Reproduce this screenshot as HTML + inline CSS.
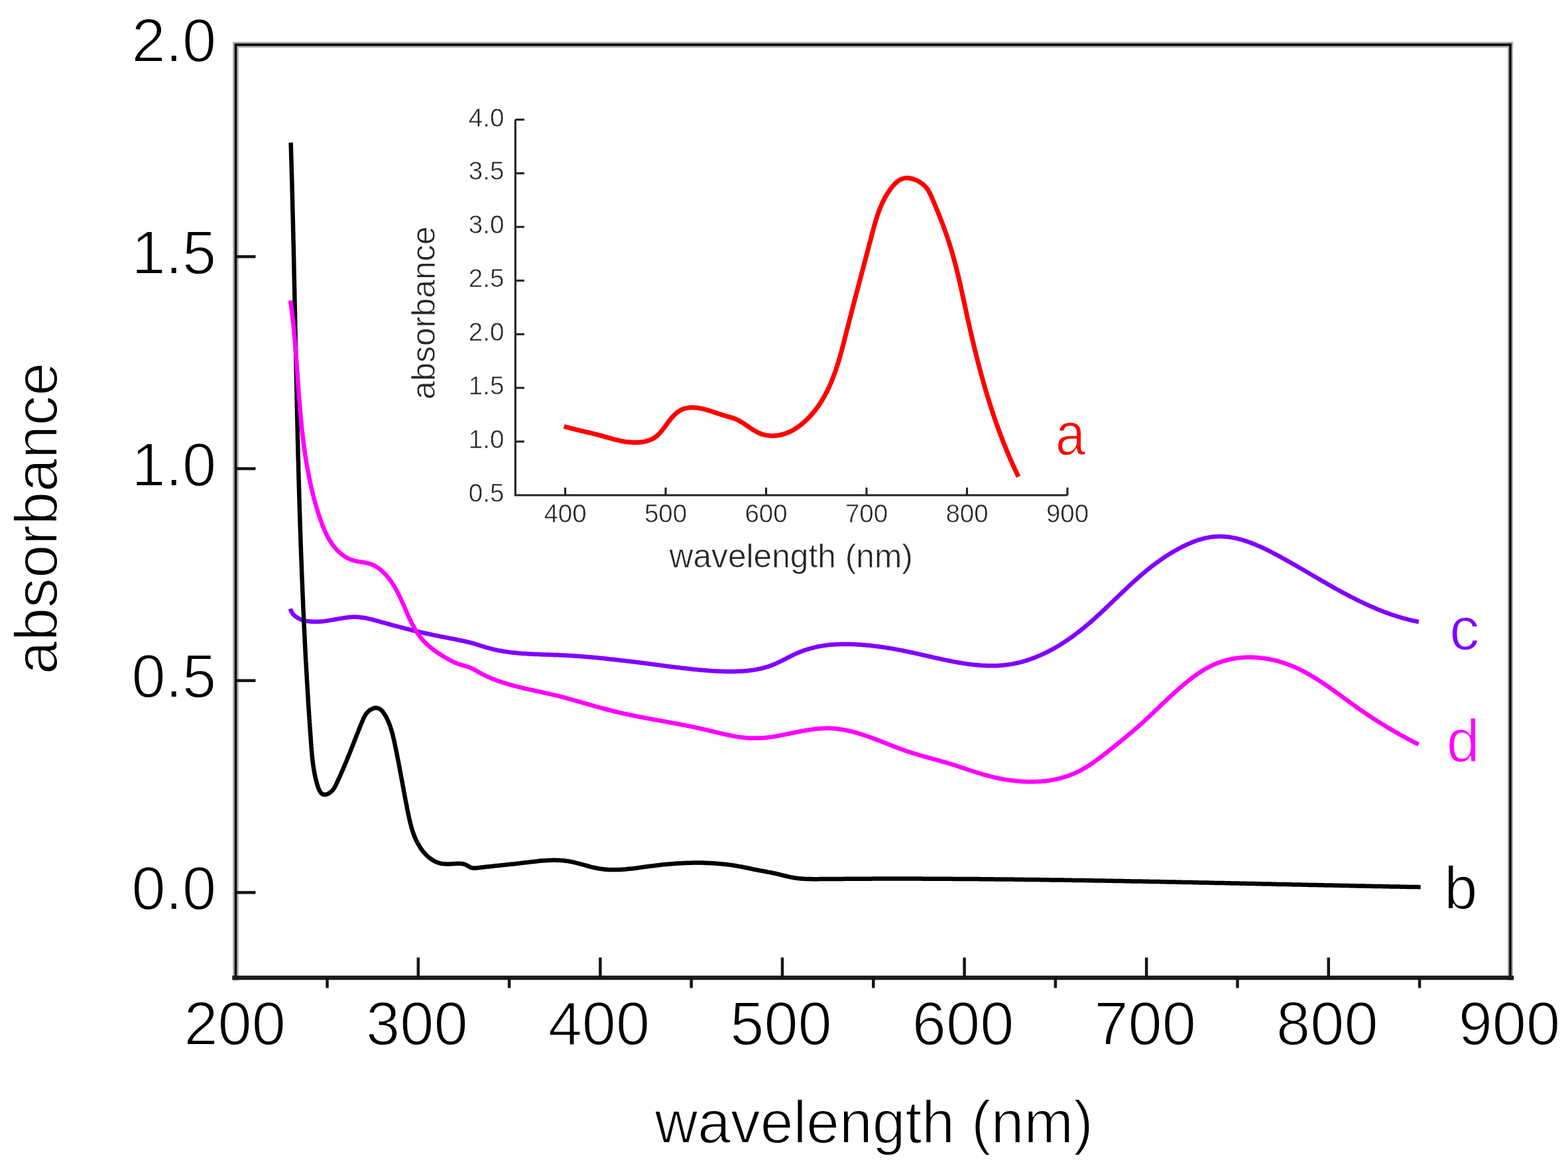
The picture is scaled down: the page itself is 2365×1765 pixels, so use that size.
<!DOCTYPE html><html><head><meta charset="utf-8"><title>absorbance spectra</title>
<style>html,body{margin:0;padding:0;background:#fff;}body{width:2365px;height:1765px;overflow:hidden;}svg{display:block;}text{font-family:"Liberation Sans", Arial, Helvetica, sans-serif;}</style></head><body>
<svg width="2365" height="1765" viewBox="0 0 2365 1765">
<rect x="0" y="0" width="2365" height="1765" fill="#fff"/>
<g fill="none" stroke-linecap="square">
<path d="M355.5,1475.0 L355.5,67.5 L2278.0,67.5" stroke="#a8a8a8" stroke-width="8.6"/>
<path d="M2278.0,67.5 L2278.0,1475.0" stroke="#a8a8a8" stroke-width="8"/>
<path d="M355.5,1475.0 L355.5,67.5 L2278.0,67.5" stroke="#000" stroke-width="3.4"/>
<path d="M2278.0,67.5 L2278.0,1475.0" stroke="#000" stroke-width="3.4"/>
<path d="M353.5,1475.0 L2280.0,1475.0" stroke="#1c1c1c" stroke-width="6.5"/>
</g>
<g stroke="#151515" stroke-width="4.5" fill="none">
<line x1="355.5" y1="1346.4" x2="385.5" y2="1346.4"/>
<line x1="355.5" y1="1026.7" x2="385.5" y2="1026.7"/>
<line x1="355.5" y1="707.0" x2="385.5" y2="707.0"/>
<line x1="355.5" y1="387.2" x2="385.5" y2="387.2"/>
<line x1="630.8" y1="1475.0" x2="630.8" y2="1444.5"/>
<line x1="905.4" y1="1475.0" x2="905.4" y2="1444.5"/>
<line x1="1180.0" y1="1475.0" x2="1180.0" y2="1444.5"/>
<line x1="1454.6" y1="1475.0" x2="1454.6" y2="1444.5"/>
<line x1="1729.2" y1="1475.0" x2="1729.2" y2="1444.5"/>
<line x1="2003.8" y1="1475.0" x2="2003.8" y2="1444.5"/>
<line x1="493.5" y1="1475.0" x2="493.5" y2="1490.5"/>
<line x1="768.1" y1="1475.0" x2="768.1" y2="1490.5"/>
<line x1="1042.7" y1="1475.0" x2="1042.7" y2="1490.5"/>
<line x1="1317.3" y1="1475.0" x2="1317.3" y2="1490.5"/>
<line x1="1591.9" y1="1475.0" x2="1591.9" y2="1490.5"/>
<line x1="1866.5" y1="1475.0" x2="1866.5" y2="1490.5"/>
<line x1="2141.1" y1="1475.0" x2="2141.1" y2="1490.5"/>
</g>
<g font-size="92" fill="#000" stroke="#fff" stroke-width="1.8" stroke-linejoin="round">
<text x="326.3" y="1371.9" text-anchor="end">0.0</text>
<text x="326.3" y="1052.2" text-anchor="end">0.5</text>
<text x="326.3" y="732.5" text-anchor="end">1.0</text>
<text x="326.3" y="412.7" text-anchor="end">1.5</text>
<text x="326.3" y="93.0" text-anchor="end">2.0</text>
<text x="354.2" y="1576" text-anchor="middle">200</text>
<text x="628.8" y="1576" text-anchor="middle">300</text>
<text x="903.4" y="1576" text-anchor="middle">400</text>
<text x="1178.0" y="1576" text-anchor="middle">500</text>
<text x="1452.6" y="1576" text-anchor="middle">600</text>
<text x="1727.2" y="1576" text-anchor="middle">700</text>
<text x="2001.8" y="1576" text-anchor="middle">800</text>
<text x="2276.4" y="1576" text-anchor="middle">900</text>
</g>
<text font-size="91" x="987.7" y="1724.2" fill="#000" stroke="#fff" stroke-width="1.8" stroke-linejoin="round" textLength="661" lengthAdjust="spacingAndGlyphs">wavelength (nm)</text>
<text font-size="90" transform="translate(85.5,782) rotate(-90)" text-anchor="middle" fill="#000" stroke="#fff" stroke-width="1.8" stroke-linejoin="round">absorbance</text>
<g fill="none" stroke="#222" stroke-width="3.1">
<path d="M777.3,180.5 L777.3,747.0 L1610.0,747.0"/>
<line x1="777.3" y1="666.1" x2="790.8" y2="666.1"/>
<line x1="777.3" y1="585.1" x2="790.8" y2="585.1"/>
<line x1="777.3" y1="504.2" x2="790.8" y2="504.2"/>
<line x1="777.3" y1="423.3" x2="790.8" y2="423.3"/>
<line x1="777.3" y1="342.3" x2="790.8" y2="342.3"/>
<line x1="777.3" y1="261.4" x2="790.8" y2="261.4"/>
<line x1="777.3" y1="180.5" x2="790.8" y2="180.5"/>
<line x1="852.5" y1="747.0" x2="852.5" y2="735.5"/>
<line x1="1004.0" y1="747.0" x2="1004.0" y2="735.5"/>
<line x1="1155.5" y1="747.0" x2="1155.5" y2="735.5"/>
<line x1="1307.0" y1="747.0" x2="1307.0" y2="735.5"/>
<line x1="1458.5" y1="747.0" x2="1458.5" y2="735.5"/>
<line x1="1610.0" y1="747.0" x2="1610.0" y2="735.5"/>
</g>
<g font-size="38.5" fill="#262626" stroke="#fff" stroke-width="0.6" stroke-linejoin="round">
<text x="760.4" y="757.0" text-anchor="end">0.5</text>
<text x="760.4" y="676.1" text-anchor="end">1.0</text>
<text x="760.4" y="595.1" text-anchor="end">1.5</text>
<text x="760.4" y="514.2" text-anchor="end">2.0</text>
<text x="760.4" y="433.3" text-anchor="end">2.5</text>
<text x="760.4" y="352.3" text-anchor="end">3.0</text>
<text x="760.4" y="271.4" text-anchor="end">3.5</text>
<text x="760.4" y="190.5" text-anchor="end">4.0</text>
<text x="852.5" y="788" text-anchor="middle">400</text>
<text x="1004.0" y="788" text-anchor="middle">500</text>
<text x="1155.5" y="788" text-anchor="middle">600</text>
<text x="1307.0" y="788" text-anchor="middle">700</text>
<text x="1458.5" y="788" text-anchor="middle">800</text>
<text x="1610.0" y="788" text-anchor="middle">900</text>
</g>
<text font-size="49.7" x="1193.2" y="856.3" text-anchor="middle" fill="#262626" stroke="#fff" stroke-width="0.7" stroke-linejoin="round">wavelength (nm)</text>
<text font-size="50" transform="translate(656.4,472) rotate(-90)" text-anchor="middle" fill="#262626" stroke="#fff" stroke-width="0.7" stroke-linejoin="round">absorbance</text>
<g fill="none" stroke-width="6.5" stroke-linejoin="round" stroke-linecap="butt">
<path stroke="#8000ff" d="M437.8,918.2 L438.5,920.3 L439.4,922.3 L440.4,924.1 L441.5,925.8 L442.8,927.3 L444.1,928.6 L445.6,929.8 L447.1,931.0 L448.8,932.0 L450.4,932.9 L452.2,933.7 L453.9,934.4 L455.7,935.1 L457.5,935.6 L459.4,936.1 L461.3,936.6 L463.2,936.9 L465.1,937.2 L467.1,937.5 L469.1,937.6 L471.1,937.8 L473.1,937.8 L475.1,937.9 L477.2,937.8 L479.2,937.8 L481.3,937.7 L483.3,937.5 L485.4,937.4 L487.5,937.2 L489.6,936.9 L491.6,936.7 L493.7,936.4 L495.8,936.1 L497.9,935.7 L499.9,935.4 L502.0,935.1 L504.0,934.7 L506.0,934.3 L508.1,934.0 L510.1,933.6 L512.1,933.3 L514.1,932.9 L516.0,932.6 L518.0,932.3 L520.0,932.0 L522.0,931.7 L523.9,931.5 L525.9,931.3 L527.9,931.1 L529.8,930.9 L531.8,930.8 L533.7,930.8 L535.7,930.7 L537.6,930.8 L539.6,930.9 L541.5,931.0 L543.5,931.2 L545.4,931.4 L547.4,931.7 L549.3,932.0 L551.3,932.3 L553.3,932.7 L555.2,933.1 L557.2,933.6 L559.1,934.1 L561.1,934.5 L563.0,935.0 L565.0,935.6 L566.9,936.1 L568.9,936.6 L570.8,937.2 L572.8,937.7 L574.7,938.3 L576.7,938.8 L578.6,939.4 L580.6,939.9 L582.5,940.4 L584.4,941.0 L586.4,941.5 L588.3,942.0 L590.3,942.6 L592.2,943.1 L594.1,943.6 L596.1,944.1 L598.0,944.6 L599.9,945.1 L601.9,945.7 L603.8,946.2 L605.7,946.7 L607.7,947.2 L609.6,947.7 L611.5,948.1 L613.5,948.6 L615.4,949.1 L617.3,949.6 L619.3,950.1 L621.2,950.5 L623.1,951.0 L625.1,951.5 L627.0,952.0 L629.0,952.4 L630.9,952.9 L632.8,953.3 L634.8,953.8 L636.7,954.2 L638.7,954.7 L640.6,955.1 L642.6,955.5 L644.5,956.0 L646.5,956.4 L648.4,956.8 L650.4,957.2 L652.3,957.6 L654.3,958.1 L656.3,958.5 L658.2,958.9 L660.2,959.3 L662.2,959.7 L664.1,960.1 L666.1,960.5 L668.1,960.8 L670.1,961.2 L672.0,961.6 L674.0,962.0 L676.0,962.4 L677.9,962.8 L679.9,963.2 L681.9,963.5 L683.9,963.9 L685.8,964.3 L687.8,964.7 L689.7,965.1 L691.7,965.5 L693.6,965.9 L695.6,966.3 L697.5,966.7 L699.5,967.1 L701.4,967.5 L703.3,968.0 L705.3,968.4 L707.2,968.9 L709.1,969.4 L711.1,969.9 L713.0,970.4 L714.9,970.9 L716.8,971.5 L718.7,972.1 L720.6,972.7 L722.6,973.3 L724.5,973.9 L726.4,974.5 L728.3,975.1 L730.2,975.7 L732.1,976.3 L734.1,976.9 L736.0,977.4 L737.9,977.9 L739.9,978.4 L741.8,978.9 L743.7,979.4 L745.7,979.8 L747.6,980.3 L749.6,980.7 L751.5,981.1 L753.5,981.5 L755.5,981.8 L757.4,982.2 L759.4,982.5 L761.3,982.8 L763.3,983.1 L765.3,983.4 L767.3,983.7 L769.2,983.9 L771.2,984.2 L773.2,984.4 L775.2,984.6 L777.2,984.8 L779.1,985.0 L781.1,985.2 L783.1,985.4 L785.1,985.6 L787.1,985.7 L789.1,985.9 L791.1,986.0 L793.1,986.1 L795.1,986.3 L797.1,986.4 L799.1,986.5 L801.1,986.6 L803.1,986.7 L805.1,986.8 L807.1,986.9 L809.1,987.0 L811.1,987.1 L813.1,987.1 L815.1,987.2 L817.1,987.3 L819.1,987.4 L821.1,987.4 L823.1,987.5 L825.1,987.6 L827.1,987.6 L829.1,987.7 L831.1,987.8 L833.1,987.8 L835.1,987.9 L837.2,988.0 L839.2,988.1 L841.2,988.1 L843.2,988.2 L845.2,988.3 L847.2,988.4 L849.2,988.5 L851.2,988.6 L853.2,988.7 L855.2,988.8 L857.2,988.9 L859.2,989.0 L861.2,989.1 L863.2,989.3 L865.2,989.4 L867.2,989.5 L869.2,989.7 L871.2,989.8 L873.2,990.0 L875.2,990.1 L877.2,990.2 L879.2,990.4 L881.2,990.6 L883.1,990.7 L885.1,990.9 L887.1,991.1 L889.1,991.2 L891.1,991.4 L893.1,991.6 L895.1,991.8 L897.1,992.0 L899.1,992.1 L901.1,992.3 L903.1,992.5 L905.1,992.7 L907.0,992.9 L909.0,993.1 L911.0,993.3 L913.0,993.5 L915.0,993.7 L917.0,993.9 L919.0,994.2 L921.0,994.4 L922.9,994.6 L924.9,994.8 L926.9,995.0 L928.9,995.3 L930.9,995.5 L932.9,995.7 L934.9,995.9 L936.9,996.2 L938.8,996.4 L940.8,996.6 L942.8,996.9 L944.8,997.1 L946.8,997.4 L948.8,997.6 L950.8,997.8 L952.7,998.1 L954.7,998.3 L956.7,998.6 L958.7,998.8 L960.7,999.1 L962.7,999.3 L964.7,999.6 L966.7,999.8 L968.6,1000.1 L970.6,1000.3 L972.6,1000.6 L974.6,1000.8 L976.6,1001.1 L978.6,1001.3 L980.6,1001.6 L982.5,1001.9 L984.5,1002.1 L986.5,1002.4 L988.5,1002.6 L990.5,1002.9 L992.5,1003.1 L994.5,1003.4 L996.5,1003.6 L998.5,1003.9 L1000.4,1004.1 L1002.4,1004.4 L1004.4,1004.7 L1006.4,1004.9 L1008.4,1005.2 L1010.4,1005.4 L1012.4,1005.7 L1014.4,1005.9 L1016.4,1006.2 L1018.4,1006.4 L1020.4,1006.7 L1022.3,1006.9 L1024.3,1007.1 L1026.3,1007.4 L1028.3,1007.6 L1030.3,1007.9 L1032.3,1008.1 L1034.3,1008.3 L1036.3,1008.6 L1038.3,1008.8 L1040.3,1009.0 L1042.3,1009.2 L1044.3,1009.5 L1046.3,1009.7 L1048.3,1009.9 L1050.3,1010.1 L1052.3,1010.3 L1054.3,1010.5 L1056.3,1010.7 L1058.3,1010.8 L1060.3,1011.0 L1062.3,1011.2 L1064.3,1011.3 L1066.3,1011.5 L1068.3,1011.7 L1070.3,1011.8 L1072.3,1011.9 L1074.3,1012.1 L1076.3,1012.2 L1078.3,1012.3 L1080.3,1012.4 L1082.3,1012.5 L1084.3,1012.6 L1086.3,1012.7 L1088.3,1012.7 L1090.3,1012.8 L1092.3,1012.8 L1094.3,1012.9 L1096.3,1012.9 L1098.3,1012.9 L1100.3,1012.9 L1102.3,1012.9 L1104.3,1012.9 L1106.3,1012.9 L1108.3,1012.9 L1110.3,1012.8 L1112.3,1012.8 L1114.3,1012.7 L1116.3,1012.6 L1118.3,1012.5 L1120.3,1012.4 L1122.3,1012.2 L1124.3,1012.1 L1126.3,1011.9 L1128.3,1011.7 L1130.2,1011.5 L1132.2,1011.3 L1134.2,1011.0 L1136.2,1010.7 L1138.1,1010.4 L1140.1,1010.1 L1142.0,1009.7 L1144.0,1009.3 L1145.9,1008.9 L1147.9,1008.5 L1149.8,1008.0 L1151.7,1007.5 L1153.6,1007.0 L1155.5,1006.5 L1157.4,1005.9 L1159.3,1005.3 L1161.2,1004.6 L1163.1,1003.9 L1165.0,1003.2 L1166.8,1002.4 L1168.7,1001.7 L1170.5,1000.9 L1172.3,1000.0 L1174.2,999.2 L1176.0,998.3 L1177.8,997.4 L1179.6,996.5 L1181.4,995.6 L1183.3,994.7 L1185.1,993.8 L1186.9,992.8 L1188.7,991.9 L1190.5,991.0 L1192.3,990.1 L1194.1,989.2 L1196.0,988.3 L1197.8,987.4 L1199.6,986.6 L1201.4,985.7 L1203.3,984.9 L1205.1,984.1 L1207.0,983.4 L1208.8,982.7 L1210.7,982.0 L1212.6,981.3 L1214.5,980.6 L1216.4,980.0 L1218.3,979.4 L1220.2,978.8 L1222.1,978.3 L1224.0,977.8 L1225.9,977.3 L1227.8,976.8 L1229.8,976.3 L1231.7,975.9 L1233.6,975.5 L1235.6,975.1 L1237.5,974.8 L1239.5,974.4 L1241.5,974.1 L1243.4,973.8 L1245.4,973.5 L1247.4,973.3 L1249.4,973.0 L1251.4,972.8 L1253.4,972.6 L1255.4,972.5 L1257.4,972.3 L1259.4,972.2 L1261.5,972.0 L1263.5,971.9 L1265.5,971.9 L1267.5,971.8 L1269.6,971.7 L1271.6,971.7 L1273.6,971.7 L1275.6,971.7 L1277.7,971.7 L1279.7,971.7 L1281.8,971.8 L1283.8,971.8 L1285.8,971.9 L1287.9,972.0 L1289.9,972.1 L1291.9,972.2 L1293.9,972.3 L1296.0,972.4 L1298.0,972.5 L1300.0,972.7 L1302.0,972.9 L1304.0,973.0 L1306.0,973.2 L1308.0,973.4 L1310.0,973.6 L1312.0,973.8 L1314.0,974.0 L1316.0,974.2 L1317.9,974.5 L1319.9,974.7 L1321.9,974.9 L1323.8,975.2 L1325.8,975.5 L1327.8,975.7 L1329.7,976.0 L1331.7,976.3 L1333.6,976.6 L1335.5,976.9 L1337.5,977.2 L1339.4,977.5 L1341.3,977.8 L1343.3,978.1 L1345.2,978.4 L1347.1,978.8 L1349.1,979.1 L1351.0,979.5 L1352.9,979.8 L1354.9,980.2 L1356.8,980.6 L1358.7,980.9 L1360.7,981.3 L1362.6,981.7 L1364.5,982.1 L1366.5,982.5 L1368.4,982.9 L1370.3,983.3 L1372.3,983.7 L1374.2,984.1 L1376.2,984.5 L1378.1,984.9 L1380.1,985.4 L1382.0,985.8 L1384.0,986.2 L1385.9,986.7 L1387.9,987.1 L1389.9,987.6 L1391.8,988.0 L1393.8,988.5 L1395.8,988.9 L1397.8,989.4 L1399.7,989.8 L1401.7,990.3 L1403.7,990.7 L1405.7,991.2 L1407.7,991.6 L1409.7,992.1 L1411.7,992.5 L1413.7,993.0 L1415.7,993.4 L1417.7,993.8 L1419.7,994.3 L1421.7,994.7 L1423.7,995.1 L1425.7,995.6 L1427.7,996.0 L1429.7,996.4 L1431.7,996.8 L1433.7,997.2 L1435.7,997.6 L1437.7,998.0 L1439.7,998.4 L1441.7,998.7 L1443.7,999.1 L1445.7,999.5 L1447.7,999.8 L1449.7,1000.1 L1451.8,1000.5 L1453.8,1000.8 L1455.8,1001.1 L1457.8,1001.4 L1459.8,1001.7 L1461.8,1001.9 L1463.8,1002.2 L1465.8,1002.4 L1467.8,1002.7 L1469.8,1002.9 L1471.8,1003.1 L1473.8,1003.3 L1475.8,1003.5 L1477.8,1003.6 L1479.8,1003.8 L1481.8,1003.9 L1483.8,1004.0 L1485.8,1004.1 L1487.8,1004.2 L1489.8,1004.3 L1491.8,1004.3 L1493.8,1004.3 L1495.8,1004.3 L1497.8,1004.3 L1499.7,1004.3 L1501.7,1004.3 L1503.7,1004.2 L1505.7,1004.1 L1507.6,1004.0 L1509.6,1003.8 L1511.6,1003.7 L1513.5,1003.5 L1515.5,1003.3 L1517.4,1003.1 L1519.4,1002.8 L1521.3,1002.6 L1523.3,1002.3 L1525.2,1001.9 L1527.2,1001.6 L1529.1,1001.2 L1531.0,1000.8 L1533.0,1000.4 L1534.9,1000.0 L1536.8,999.5 L1538.7,999.1 L1540.6,998.6 L1542.6,998.0 L1544.5,997.5 L1546.4,996.9 L1548.2,996.3 L1550.1,995.7 L1552.0,995.1 L1553.9,994.5 L1555.8,993.8 L1557.6,993.1 L1559.5,992.4 L1561.4,991.7 L1563.2,990.9 L1565.1,990.2 L1566.9,989.4 L1568.7,988.6 L1570.6,987.8 L1572.4,987.0 L1574.2,986.1 L1576.0,985.3 L1577.8,984.4 L1579.6,983.5 L1581.4,982.6 L1583.2,981.7 L1585.0,980.7 L1586.8,979.8 L1588.5,978.8 L1590.3,977.8 L1592.1,976.8 L1593.8,975.8 L1595.5,974.8 L1597.3,973.7 L1599.0,972.7 L1600.7,971.6 L1602.4,970.5 L1604.1,969.4 L1605.8,968.3 L1607.5,967.2 L1609.2,966.1 L1610.9,965.0 L1612.5,963.8 L1614.2,962.7 L1615.8,961.5 L1617.5,960.3 L1619.1,959.1 L1620.7,957.9 L1622.3,956.7 L1623.9,955.5 L1625.5,954.3 L1627.1,953.1 L1628.7,951.8 L1630.3,950.6 L1631.8,949.3 L1633.4,948.0 L1635.0,946.8 L1636.5,945.5 L1638.0,944.2 L1639.6,942.9 L1641.1,941.6 L1642.6,940.3 L1644.2,939.0 L1645.7,937.7 L1647.2,936.4 L1648.7,935.0 L1650.2,933.7 L1651.7,932.4 L1653.2,931.0 L1654.6,929.7 L1656.1,928.3 L1657.6,927.0 L1659.1,925.6 L1660.5,924.2 L1662.0,922.9 L1663.5,921.5 L1664.9,920.1 L1666.4,918.8 L1667.9,917.4 L1669.3,916.0 L1670.8,914.6 L1672.2,913.2 L1673.7,911.9 L1675.1,910.5 L1676.6,909.1 L1678.0,907.7 L1679.5,906.3 L1680.9,904.9 L1682.4,903.5 L1683.8,902.2 L1685.2,900.8 L1686.7,899.4 L1688.1,898.0 L1689.6,896.6 L1691.0,895.2 L1692.5,893.9 L1693.9,892.5 L1695.4,891.1 L1696.8,889.7 L1698.3,888.4 L1699.7,887.0 L1701.2,885.6 L1702.7,884.3 L1704.1,882.9 L1705.6,881.5 L1707.1,880.2 L1708.5,878.8 L1710.0,877.5 L1711.5,876.2 L1713.0,874.8 L1714.4,873.5 L1715.9,872.2 L1717.4,870.9 L1718.9,869.5 L1720.4,868.2 L1721.9,866.9 L1723.5,865.6 L1725.0,864.4 L1726.5,863.1 L1728.0,861.8 L1729.6,860.5 L1731.1,859.3 L1732.7,858.0 L1734.2,856.8 L1735.8,855.6 L1737.3,854.3 L1738.9,853.1 L1740.5,851.9 L1742.1,850.7 L1743.7,849.5 L1745.3,848.3 L1746.9,847.2 L1748.5,846.0 L1750.2,844.8 L1751.8,843.7 L1753.5,842.6 L1755.1,841.4 L1756.8,840.3 L1758.5,839.2 L1760.2,838.1 L1761.8,837.0 L1763.6,836.0 L1765.3,834.9 L1767.0,833.9 L1768.7,832.8 L1770.5,831.8 L1772.2,830.8 L1774.0,829.8 L1775.8,828.8 L1777.6,827.8 L1779.4,826.8 L1781.2,825.9 L1783.0,825.0 L1784.9,824.0 L1786.7,823.1 L1788.6,822.2 L1790.5,821.4 L1792.3,820.5 L1794.2,819.7 L1796.1,818.9 L1798.0,818.1 L1799.9,817.4 L1801.8,816.7 L1803.7,816.0 L1805.7,815.3 L1807.6,814.6 L1809.5,814.0 L1811.4,813.5 L1813.4,812.9 L1815.3,812.4 L1817.3,811.9 L1819.2,811.5 L1821.1,811.1 L1823.1,810.7 L1825.0,810.4 L1827.0,810.1 L1828.9,809.9 L1830.9,809.7 L1832.8,809.5 L1834.8,809.4 L1836.7,809.3 L1838.7,809.3 L1840.6,809.3 L1842.5,809.3 L1844.5,809.4 L1846.4,809.5 L1848.4,809.7 L1850.3,809.8 L1852.2,810.0 L1854.2,810.3 L1856.1,810.6 L1858.0,810.9 L1859.9,811.2 L1861.9,811.6 L1863.8,812.0 L1865.7,812.4 L1867.6,812.9 L1869.5,813.4 L1871.5,813.9 L1873.4,814.4 L1875.3,815.0 L1877.2,815.6 L1879.1,816.2 L1881.0,816.8 L1882.9,817.5 L1884.8,818.2 L1886.7,818.9 L1888.5,819.6 L1890.4,820.3 L1892.3,821.1 L1894.2,821.9 L1896.1,822.7 L1897.9,823.5 L1899.8,824.3 L1901.7,825.1 L1903.5,826.0 L1905.4,826.8 L1907.2,827.7 L1909.1,828.6 L1910.9,829.5 L1912.7,830.4 L1914.6,831.3 L1916.4,832.3 L1918.2,833.2 L1920.0,834.1 L1921.9,835.1 L1923.7,836.1 L1925.5,837.0 L1927.3,838.0 L1929.1,838.9 L1930.9,839.9 L1932.6,840.9 L1934.4,841.9 L1936.2,842.8 L1938.0,843.8 L1939.7,844.8 L1941.5,845.8 L1943.3,846.8 L1945.0,847.8 L1946.8,848.8 L1948.5,849.8 L1950.3,850.8 L1952.0,851.7 L1953.7,852.7 L1955.5,853.7 L1957.2,854.7 L1958.9,855.7 L1960.6,856.7 L1962.4,857.7 L1964.1,858.7 L1965.8,859.7 L1967.5,860.7 L1969.3,861.8 L1971.0,862.8 L1972.7,863.8 L1974.4,864.8 L1976.1,865.8 L1977.8,866.8 L1979.5,867.8 L1981.2,868.8 L1983.0,869.8 L1984.7,870.8 L1986.4,871.8 L1988.1,872.8 L1989.8,873.8 L1991.5,874.8 L1993.2,875.8 L1994.9,876.7 L1996.6,877.7 L1998.4,878.7 L2000.1,879.7 L2001.8,880.7 L2003.5,881.7 L2005.2,882.7 L2007.0,883.7 L2008.7,884.6 L2010.4,885.6 L2012.1,886.6 L2013.9,887.6 L2015.6,888.5 L2017.4,889.5 L2019.1,890.4 L2020.8,891.4 L2022.6,892.4 L2024.3,893.3 L2026.1,894.3 L2027.9,895.2 L2029.6,896.1 L2031.4,897.1 L2033.2,898.0 L2035.0,898.9 L2036.7,899.9 L2038.5,900.8 L2040.3,901.7 L2042.1,902.6 L2043.9,903.5 L2045.7,904.4 L2047.5,905.3 L2049.3,906.2 L2051.1,907.1 L2053.0,908.0 L2054.8,908.8 L2056.6,909.7 L2058.4,910.5 L2060.3,911.4 L2062.1,912.2 L2063.9,913.1 L2065.8,913.9 L2067.6,914.7 L2069.5,915.5 L2071.3,916.3 L2073.2,917.1 L2075.1,917.9 L2076.9,918.7 L2078.8,919.5 L2080.7,920.2 L2082.5,921.0 L2084.4,921.7 L2086.3,922.4 L2088.2,923.2 L2090.1,923.9 L2091.9,924.6 L2093.8,925.3 L2095.7,925.9 L2097.6,926.6 L2099.5,927.3 L2101.4,927.9 L2103.3,928.5 L2105.2,929.1 L2107.1,929.8 L2109.1,930.4 L2111.0,930.9 L2112.9,931.5 L2114.8,932.1 L2116.7,932.6 L2118.7,933.1 L2120.6,933.7 L2122.5,934.2 L2124.4,934.7 L2126.4,935.1 L2128.3,935.6 L2130.2,936.0 L2132.2,936.5 L2134.1,936.9 L2136.1,937.3 L2138.0,937.7 L2139.9,938.0"/>
<path stroke="#000" d="M438.6,215.1 L438.7,217.0 L438.7,219.0 L438.8,221.0 L438.9,223.0 L438.9,225.0 L439.0,227.0 L439.0,229.0 L439.1,231.0 L439.2,233.0 L439.2,235.0 L439.3,237.0 L439.3,239.0 L439.4,241.0 L439.5,243.0 L439.5,245.0 L439.6,247.0 L439.6,249.0 L439.7,251.0 L439.7,253.0 L439.8,255.0 L439.9,257.0 L439.9,259.0 L440.0,261.0 L440.0,263.0 L440.1,265.0 L440.1,267.0 L440.2,269.0 L440.2,271.0 L440.3,273.0 L440.4,275.0 L440.4,277.0 L440.5,279.0 L440.5,281.0 L440.6,283.0 L440.6,285.0 L440.7,287.0 L440.7,289.0 L440.8,291.0 L440.8,293.0 L440.9,295.0 L440.9,297.0 L441.0,299.0 L441.0,301.0 L441.1,303.0 L441.1,305.0 L441.2,307.0 L441.2,309.0 L441.3,311.0 L441.3,313.0 L441.4,315.0 L441.4,317.0 L441.5,319.0 L441.5,321.0 L441.6,323.0 L441.6,325.0 L441.7,327.0 L441.7,329.0 L441.8,331.0 L441.8,333.0 L441.9,335.0 L441.9,337.0 L442.0,339.0 L442.0,341.0 L442.1,343.0 L442.1,345.0 L442.2,347.0 L442.2,349.0 L442.3,351.0 L442.3,353.0 L442.4,355.0 L442.4,357.0 L442.4,359.0 L442.5,361.0 L442.5,363.0 L442.6,365.0 L442.6,367.0 L442.7,369.0 L442.7,371.0 L442.8,373.0 L442.8,375.0 L442.9,377.0 L442.9,379.0 L442.9,381.0 L443.0,383.0 L443.0,385.0 L443.1,387.0 L443.1,389.0 L443.2,391.0 L443.2,393.0 L443.3,395.0 L443.3,397.0 L443.3,399.0 L443.4,401.0 L443.4,403.0 L443.5,405.0 L443.5,407.0 L443.6,409.0 L443.6,411.0 L443.6,413.0 L443.7,415.0 L443.7,417.0 L443.8,419.0 L443.8,421.0 L443.9,423.0 L443.9,425.0 L443.9,427.0 L444.0,429.0 L444.0,431.1 L444.1,433.1 L444.1,435.1 L444.2,437.1 L444.2,439.1 L444.2,441.1 L444.3,443.1 L444.3,445.1 L444.4,447.1 L444.4,449.1 L444.4,451.1 L444.5,453.1 L444.5,455.1 L444.6,457.1 L444.6,459.1 L444.7,461.1 L444.7,463.1 L444.7,465.1 L444.8,467.1 L444.8,469.1 L444.9,471.1 L444.9,473.1 L444.9,475.1 L445.0,477.1 L445.0,479.1 L445.1,481.1 L445.1,483.1 L445.2,485.1 L445.2,487.1 L445.2,489.1 L445.3,491.1 L445.3,493.1 L445.4,495.1 L445.4,497.1 L445.4,499.1 L445.5,501.1 L445.5,503.1 L445.6,505.1 L445.6,507.2 L445.7,509.2 L445.7,511.2 L445.7,513.2 L445.8,515.2 L445.8,517.2 L445.9,519.2 L445.9,521.2 L445.9,523.2 L446.0,525.2 L446.0,527.2 L446.1,529.2 L446.1,531.2 L446.1,533.2 L446.2,535.2 L446.2,537.2 L446.3,539.2 L446.3,541.2 L446.4,543.2 L446.4,545.2 L446.4,547.2 L446.5,549.2 L446.5,551.2 L446.6,553.2 L446.6,555.2 L446.7,557.2 L446.7,559.2 L446.7,561.2 L446.8,563.2 L446.8,565.2 L446.9,567.2 L446.9,569.3 L447.0,571.3 L447.0,573.3 L447.0,575.3 L447.1,577.3 L447.1,579.3 L447.2,581.3 L447.2,583.3 L447.3,585.3 L447.3,587.3 L447.3,589.3 L447.4,591.3 L447.4,593.3 L447.5,595.3 L447.5,597.3 L447.6,599.3 L447.6,601.3 L447.6,603.3 L447.7,605.3 L447.7,607.3 L447.8,609.3 L447.8,611.3 L447.9,613.3 L447.9,615.3 L448.0,617.3 L448.0,619.3 L448.1,621.3 L448.1,623.3 L448.1,625.3 L448.2,627.3 L448.2,629.3 L448.3,631.4 L448.3,633.4 L448.4,635.4 L448.4,637.4 L448.5,639.4 L448.5,641.4 L448.6,643.4 L448.6,645.4 L448.7,647.4 L448.7,649.4 L448.8,651.4 L448.8,653.4 L448.9,655.4 L448.9,657.4 L448.9,659.4 L449.0,661.4 L449.0,663.4 L449.1,665.4 L449.1,667.4 L449.2,669.4 L449.2,671.4 L449.3,673.4 L449.3,675.4 L449.4,677.4 L449.4,679.4 L449.5,681.4 L449.5,683.4 L449.6,685.4 L449.6,687.4 L449.7,689.4 L449.7,691.4 L449.8,693.4 L449.9,695.5 L449.9,697.5 L450.0,699.5 L450.0,701.5 L450.1,703.5 L450.1,705.5 L450.2,707.5 L450.2,709.5 L450.3,711.5 L450.3,713.5 L450.4,715.5 L450.4,717.5 L450.5,719.5 L450.5,721.5 L450.6,723.5 L450.7,725.5 L450.7,727.5 L450.8,729.5 L450.8,731.5 L450.9,733.5 L450.9,735.5 L451.0,737.5 L451.1,739.5 L451.1,741.5 L451.2,743.5 L451.2,745.5 L451.3,747.5 L451.3,749.5 L451.4,751.5 L451.5,753.5 L451.5,755.5 L451.6,757.5 L451.6,759.5 L451.7,761.5 L451.8,763.5 L451.8,765.5 L451.9,767.5 L451.9,769.5 L452.0,771.5 L452.1,773.5 L452.1,775.5 L452.2,777.5 L452.3,779.5 L452.3,781.6 L452.4,783.6 L452.4,785.6 L452.5,787.6 L452.6,789.6 L452.6,791.6 L452.7,793.6 L452.8,795.6 L452.8,797.6 L452.9,799.6 L453.0,801.6 L453.0,803.6 L453.1,805.6 L453.2,807.6 L453.2,809.6 L453.3,811.6 L453.4,813.6 L453.4,815.6 L453.5,817.6 L453.6,819.6 L453.6,821.6 L453.7,823.6 L453.8,825.6 L453.9,827.6 L453.9,829.6 L454.0,831.6 L454.1,833.6 L454.1,835.6 L454.2,837.6 L454.3,839.6 L454.4,841.6 L454.4,843.6 L454.5,845.6 L454.6,847.6 L454.7,849.6 L454.7,851.6 L454.8,853.6 L454.9,855.6 L455.0,857.6 L455.0,859.6 L455.1,861.6 L455.2,863.6 L455.3,865.6 L455.3,867.6 L455.4,869.6 L455.5,871.6 L455.6,873.6 L455.7,875.6 L455.7,877.6 L455.8,879.6 L455.9,881.6 L456.0,883.6 L456.1,885.6 L456.1,887.6 L456.2,889.6 L456.3,891.6 L456.4,893.6 L456.5,895.6 L456.6,897.6 L456.6,899.6 L456.7,901.6 L456.8,903.6 L456.9,905.6 L457.0,907.6 L457.1,909.6 L457.2,911.6 L457.2,913.6 L457.3,915.6 L457.4,917.6 L457.5,919.6 L457.6,921.6 L457.7,923.6 L457.8,925.6 L457.9,927.6 L458.0,929.6 L458.1,931.6 L458.1,933.6 L458.2,935.6 L458.3,937.6 L458.4,939.5 L458.5,941.5 L458.6,943.5 L458.7,945.5 L458.8,947.5 L458.9,949.5 L459.0,951.5 L459.1,953.5 L459.2,955.5 L459.3,957.5 L459.4,959.5 L459.5,961.5 L459.6,963.5 L459.7,965.5 L459.8,967.5 L459.9,969.5 L460.0,971.5 L460.1,973.5 L460.2,975.5 L460.3,977.5 L460.4,979.5 L460.5,981.5 L460.6,983.5 L460.7,985.5 L460.8,987.5 L460.9,989.5 L461.0,991.5 L461.1,993.5 L461.2,995.5 L461.3,997.5 L461.5,999.5 L461.6,1001.5 L461.7,1003.4 L461.8,1005.4 L461.9,1007.4 L462.0,1009.4 L462.1,1011.4 L462.2,1013.4 L462.3,1015.4 L462.5,1017.4 L462.6,1019.4 L462.7,1021.4 L462.8,1023.4 L462.9,1025.4 L463.0,1027.4 L463.1,1029.4 L463.3,1031.4 L463.4,1033.4 L463.5,1035.4 L463.6,1037.4 L463.7,1039.4 L463.9,1041.4 L464.0,1043.3 L464.1,1045.3 L464.2,1047.3 L464.3,1049.3 L464.5,1051.3 L464.6,1053.3 L464.7,1055.3 L464.8,1057.3 L465.0,1059.3 L465.1,1061.3 L465.2,1063.3 L465.3,1065.3 L465.5,1067.3 L465.6,1069.3 L465.7,1071.3 L465.9,1073.3 L466.0,1075.2 L466.1,1077.2 L466.3,1079.2 L466.4,1081.2 L466.5,1083.2 L466.7,1085.2 L466.8,1087.2 L466.9,1089.2 L467.1,1091.2 L467.2,1093.2 L467.3,1095.2 L467.5,1097.2 L467.6,1099.2 L467.7,1101.1 L467.9,1103.1 L468.0,1105.1 L468.2,1107.1 L468.3,1109.1 L468.4,1111.1 L468.6,1113.1 L468.7,1115.1 L468.9,1117.1 L469.0,1119.1 L469.2,1121.1 L469.3,1123.1 L469.5,1125.0 L469.6,1127.0 L469.8,1129.0 L469.9,1131.0 L470.1,1133.0 L470.3,1135.0 L470.4,1137.0 L470.6,1139.0 L470.8,1141.0 L471.0,1143.0 L471.2,1145.0 L471.4,1147.0 L471.7,1149.0 L471.9,1151.0 L472.2,1153.0 L472.5,1155.0 L472.8,1157.0 L473.1,1159.0 L473.4,1161.1 L473.8,1163.1 L474.1,1165.1 L474.5,1167.1 L474.9,1169.2 L475.4,1171.2 L475.8,1173.2 L476.3,1175.3 L476.8,1177.3 L477.4,1179.4 L477.9,1181.4 L478.5,1183.5 L479.1,1185.5 L479.8,1187.6 L480.5,1189.5 L481.3,1191.4 L482.1,1193.2 L483.1,1194.8 L484.1,1196.1 L485.3,1197.3 L486.6,1198.1 L488.1,1198.6 L489.8,1198.8 L491.5,1198.6 L493.4,1198.0 L495.4,1197.2 L497.2,1196.1 L498.9,1194.8 L500.5,1193.4 L501.8,1191.9 L503.1,1190.3 L504.2,1188.6 L505.2,1186.8 L506.1,1185.0 L507.0,1183.2 L507.9,1181.3 L508.8,1179.5 L509.6,1177.6 L510.5,1175.8 L511.3,1173.9 L512.2,1172.1 L513.0,1170.3 L513.8,1168.4 L514.6,1166.6 L515.4,1164.7 L516.2,1162.9 L517.0,1161.1 L517.8,1159.2 L518.6,1157.4 L519.4,1155.6 L520.2,1153.7 L520.9,1151.9 L521.7,1150.1 L522.5,1148.2 L523.2,1146.4 L524.0,1144.5 L524.7,1142.7 L525.5,1140.9 L526.2,1139.0 L527.0,1137.2 L527.7,1135.3 L528.4,1133.5 L529.2,1131.6 L529.9,1129.8 L530.6,1127.9 L531.4,1126.1 L532.1,1124.2 L532.8,1122.3 L533.6,1120.5 L534.3,1118.6 L535.0,1116.7 L535.7,1114.9 L536.5,1113.0 L537.2,1111.1 L537.9,1109.3 L538.7,1107.4 L539.4,1105.5 L540.2,1103.7 L540.9,1101.8 L541.6,1099.9 L542.4,1098.1 L543.1,1096.2 L543.9,1094.3 L544.7,1092.4 L545.4,1090.6 L546.2,1088.7 L547.0,1086.8 L547.8,1085.0 L548.6,1083.1 L549.5,1081.3 L550.5,1079.6 L551.5,1077.9 L552.7,1076.2 L554.0,1074.7 L555.5,1073.2 L557.1,1071.8 L558.9,1070.6 L560.8,1069.6 L562.7,1068.7 L564.6,1068.1 L566.5,1067.8 L568.3,1067.9 L570.0,1068.2 L571.6,1068.8 L573.1,1069.7 L574.6,1070.8 L576.0,1072.1 L577.3,1073.6 L578.5,1075.2 L579.7,1077.0 L580.8,1078.8 L581.9,1080.6 L582.9,1082.5 L583.8,1084.5 L584.7,1086.4 L585.6,1088.3 L586.4,1090.2 L587.2,1092.1 L587.9,1094.0 L588.6,1095.9 L589.2,1097.9 L589.9,1099.8 L590.4,1101.7 L591.0,1103.6 L591.5,1105.5 L592.1,1107.5 L592.5,1109.4 L593.0,1111.3 L593.5,1113.3 L593.9,1115.2 L594.4,1117.1 L594.8,1119.1 L595.2,1121.0 L595.6,1122.9 L596.0,1124.9 L596.4,1126.8 L596.8,1128.8 L597.2,1130.7 L597.6,1132.7 L598.0,1134.6 L598.4,1136.5 L598.8,1138.5 L599.2,1140.4 L599.6,1142.4 L599.9,1144.3 L600.3,1146.3 L600.7,1148.3 L601.1,1150.2 L601.5,1152.2 L601.8,1154.1 L602.2,1156.1 L602.6,1158.0 L602.9,1160.0 L603.3,1162.0 L603.7,1163.9 L604.0,1165.9 L604.4,1167.9 L604.8,1169.8 L605.1,1171.8 L605.5,1173.8 L605.9,1175.7 L606.2,1177.7 L606.6,1179.7 L607.0,1181.6 L607.3,1183.6 L607.7,1185.6 L608.0,1187.5 L608.4,1189.5 L608.8,1191.5 L609.1,1193.5 L609.5,1195.4 L609.9,1197.4 L610.2,1199.4 L610.6,1201.3 L611.0,1203.3 L611.4,1205.3 L611.7,1207.3 L612.1,1209.3 L612.5,1211.2 L612.9,1213.2 L613.3,1215.2 L613.7,1217.2 L614.0,1219.1 L614.4,1221.1 L614.8,1223.1 L615.2,1225.1 L615.6,1227.0 L616.0,1229.0 L616.5,1231.0 L616.9,1233.0 L617.3,1234.9 L617.7,1236.9 L618.2,1238.9 L618.7,1240.8 L619.2,1242.8 L619.7,1244.7 L620.2,1246.6 L620.7,1248.6 L621.3,1250.5 L621.9,1252.4 L622.5,1254.3 L623.1,1256.2 L623.8,1258.0 L624.4,1259.9 L625.2,1261.7 L625.9,1263.6 L626.7,1265.4 L627.5,1267.2 L628.4,1269.0 L629.3,1270.7 L630.2,1272.5 L631.2,1274.2 L632.2,1275.9 L633.2,1277.6 L634.3,1279.2 L635.5,1280.9 L636.6,1282.5 L637.9,1284.1 L639.2,1285.7 L640.5,1287.2 L641.9,1288.7 L643.3,1290.2 L644.8,1291.6 L646.3,1292.9 L647.9,1294.2 L649.5,1295.4 L651.2,1296.6 L652.8,1297.7 L654.6,1298.7 L656.3,1299.6 L658.1,1300.4 L660.0,1301.1 L661.9,1301.8 L663.8,1302.3 L665.7,1302.7 L667.7,1303.0 L669.7,1303.2 L671.7,1303.3 L673.7,1303.4 L675.8,1303.4 L677.9,1303.4 L680.0,1303.3 L682.1,1303.2 L684.2,1303.0 L686.3,1302.9 L688.4,1302.8 L690.4,1302.7 L692.5,1302.7 L694.5,1302.8 L696.4,1302.9 L698.4,1303.3 L700.2,1303.7 L702.0,1304.3 L703.7,1305.1 L705.4,1306.1 L707.0,1307.1 L708.6,1308.1 L710.3,1308.8 L712.2,1309.2 L714.1,1309.4 L716.0,1309.5 L718.0,1309.4 L720.1,1309.2 L722.1,1309.0 L724.1,1308.8 L726.2,1308.5 L728.2,1308.3 L730.2,1308.1 L732.3,1307.8 L734.3,1307.6 L736.3,1307.4 L738.3,1307.2 L740.3,1307.0 L742.3,1306.8 L744.3,1306.5 L746.3,1306.3 L748.3,1306.1 L750.3,1305.9 L752.3,1305.7 L754.2,1305.5 L756.2,1305.3 L758.2,1305.1 L760.2,1304.9 L762.2,1304.6 L764.1,1304.4 L766.1,1304.2 L768.1,1304.0 L770.1,1303.8 L772.0,1303.6 L774.0,1303.4 L776.0,1303.2 L778.0,1302.9 L780.0,1302.7 L781.9,1302.5 L783.9,1302.3 L785.9,1302.0 L787.9,1301.8 L789.9,1301.6 L791.9,1301.3 L793.8,1301.1 L795.8,1300.9 L797.8,1300.6 L799.8,1300.4 L801.8,1300.1 L803.8,1299.9 L805.8,1299.7 L807.8,1299.5 L809.8,1299.2 L811.8,1299.0 L813.8,1298.8 L815.8,1298.6 L817.8,1298.5 L819.8,1298.3 L821.8,1298.2 L823.8,1298.0 L825.8,1297.9 L827.8,1297.8 L829.8,1297.7 L831.8,1297.7 L833.8,1297.6 L835.8,1297.6 L837.8,1297.6 L839.8,1297.7 L841.8,1297.7 L843.8,1297.8 L845.8,1297.9 L847.8,1298.1 L849.8,1298.2 L851.8,1298.4 L853.7,1298.7 L855.7,1298.9 L857.7,1299.3 L859.6,1299.6 L861.6,1300.0 L863.6,1300.4 L865.5,1300.8 L867.5,1301.3 L869.5,1301.8 L871.4,1302.3 L873.4,1302.8 L875.3,1303.3 L877.3,1303.8 L879.2,1304.4 L881.2,1304.9 L883.1,1305.5 L885.1,1306.0 L887.0,1306.5 L889.0,1307.1 L890.9,1307.6 L892.8,1308.1 L894.8,1308.5 L896.8,1309.0 L898.7,1309.4 L900.7,1309.8 L902.6,1310.2 L904.6,1310.5 L906.5,1310.8 L908.5,1311.1 L910.5,1311.3 L912.4,1311.5 L914.4,1311.7 L916.4,1311.8 L918.3,1311.9 L920.3,1312.0 L922.3,1312.1 L924.3,1312.1 L926.2,1312.1 L928.2,1312.1 L930.2,1312.1 L932.2,1312.0 L934.2,1311.9 L936.2,1311.8 L938.2,1311.7 L940.1,1311.5 L942.1,1311.4 L944.1,1311.2 L946.1,1311.0 L948.1,1310.8 L950.1,1310.6 L952.1,1310.4 L954.1,1310.2 L956.1,1309.9 L958.1,1309.7 L960.1,1309.4 L962.1,1309.2 L964.1,1308.9 L966.1,1308.6 L968.1,1308.3 L970.1,1308.1 L972.1,1307.8 L974.1,1307.5 L976.1,1307.2 L978.1,1307.0 L980.1,1306.7 L982.1,1306.4 L984.1,1306.2 L986.1,1305.9 L988.1,1305.7 L990.1,1305.4 L992.1,1305.2 L994.1,1305.0 L996.1,1304.8 L998.1,1304.5 L1000.1,1304.3 L1002.1,1304.1 L1004.1,1303.9 L1006.1,1303.7 L1008.1,1303.6 L1010.1,1303.4 L1012.1,1303.2 L1014.1,1303.1 L1016.1,1302.9 L1018.1,1302.8 L1020.1,1302.6 L1022.1,1302.5 L1024.1,1302.4 L1026.1,1302.3 L1028.1,1302.2 L1030.1,1302.1 L1032.1,1302.0 L1034.1,1301.9 L1036.1,1301.8 L1038.1,1301.8 L1040.1,1301.7 L1042.1,1301.7 L1044.0,1301.6 L1046.0,1301.6 L1048.0,1301.6 L1050.0,1301.6 L1052.0,1301.6 L1054.0,1301.6 L1056.0,1301.6 L1058.0,1301.6 L1060.0,1301.6 L1062.0,1301.7 L1064.0,1301.7 L1066.0,1301.8 L1068.0,1301.9 L1069.9,1302.0 L1071.9,1302.1 L1073.9,1302.2 L1075.9,1302.3 L1077.9,1302.4 L1079.9,1302.6 L1081.9,1302.7 L1083.9,1302.9 L1085.8,1303.1 L1087.8,1303.2 L1089.8,1303.4 L1091.8,1303.6 L1093.8,1303.9 L1095.8,1304.1 L1097.7,1304.3 L1099.7,1304.6 L1101.7,1304.9 L1103.7,1305.1 L1105.7,1305.4 L1107.6,1305.7 L1109.6,1306.0 L1111.6,1306.4 L1113.6,1306.7 L1115.5,1307.1 L1117.5,1307.4 L1119.5,1307.8 L1121.5,1308.2 L1123.4,1308.6 L1125.4,1309.0 L1127.4,1309.4 L1129.3,1309.8 L1131.3,1310.2 L1133.3,1310.6 L1135.2,1311.1 L1137.2,1311.5 L1139.2,1311.9 L1141.1,1312.3 L1143.1,1312.6 L1145.0,1313.0 L1147.0,1313.4 L1149.0,1313.7 L1150.9,1314.1 L1152.9,1314.5 L1154.8,1314.8 L1156.8,1315.2 L1158.7,1315.6 L1160.7,1315.9 L1162.6,1316.3 L1164.6,1316.7 L1166.5,1317.1 L1168.5,1317.5 L1170.4,1317.9 L1172.4,1318.4 L1174.3,1318.8 L1176.3,1319.3 L1178.2,1319.8 L1180.2,1320.3 L1182.1,1320.8 L1184.1,1321.3 L1186.1,1321.7 L1188.0,1322.2 L1190.0,1322.6 L1191.9,1323.1 L1193.9,1323.5 L1195.9,1323.8 L1197.9,1324.2 L1199.8,1324.5 L1201.8,1324.7 L1203.8,1325.0 L1205.8,1325.2 L1207.8,1325.4 L1209.7,1325.5 L1211.7,1325.7 L1213.7,1325.8 L1215.7,1325.9 L1217.7,1326.0 L1219.7,1326.0 L1221.7,1326.1 L1223.7,1326.1 L1225.7,1326.2 L1227.7,1326.2 L1229.7,1326.2 L1231.7,1326.2 L1233.7,1326.2 L1235.7,1326.1 L1237.7,1326.1 L1239.7,1326.1 L1241.7,1326.1 L1243.7,1326.1 L1245.7,1326.1 L1247.7,1326.0 L1249.7,1326.0 L1251.7,1326.0 L1253.7,1326.0 L1255.7,1326.0 L1257.7,1326.0 L1259.7,1325.9 L1261.7,1325.9 L1263.8,1325.9 L1265.8,1325.9 L1267.8,1325.9 L1269.8,1325.9 L1271.8,1325.9 L1273.8,1325.8 L1275.8,1325.8 L1277.8,1325.8 L1279.8,1325.8 L1281.8,1325.8 L1283.8,1325.8 L1285.8,1325.8 L1287.8,1325.8 L1289.8,1325.7 L1291.8,1325.7 L1293.8,1325.7 L1295.8,1325.7 L1297.8,1325.7 L1299.8,1325.7 L1301.8,1325.7 L1303.8,1325.7 L1305.8,1325.7 L1307.8,1325.7 L1309.8,1325.7 L1311.8,1325.7 L1313.8,1325.7 L1315.8,1325.6 L1317.8,1325.6 L1319.8,1325.6 L1321.8,1325.6 L1323.8,1325.6 L1325.8,1325.6 L1327.8,1325.6 L1329.8,1325.6 L1331.8,1325.6 L1333.9,1325.6 L1335.9,1325.6 L1337.9,1325.6 L1339.9,1325.6 L1341.9,1325.6 L1343.9,1325.6 L1345.9,1325.6 L1347.9,1325.6 L1349.9,1325.6 L1351.9,1325.6 L1353.9,1325.6 L1355.9,1325.6 L1357.9,1325.6 L1359.9,1325.6 L1361.9,1325.6 L1363.9,1325.6 L1365.9,1325.6 L1367.9,1325.6 L1369.9,1325.6 L1371.9,1325.6 L1373.9,1325.6 L1375.9,1325.6 L1377.9,1325.6 L1379.9,1325.6 L1381.9,1325.6 L1383.9,1325.6 L1385.9,1325.6 L1387.9,1325.6 L1389.9,1325.6 L1391.9,1325.7 L1393.9,1325.7 L1395.9,1325.7 L1397.9,1325.7 L1399.9,1325.7 L1401.9,1325.7 L1403.9,1325.7 L1405.9,1325.7 L1407.9,1325.7 L1410.0,1325.7 L1412.0,1325.7 L1414.0,1325.7 L1416.0,1325.7 L1418.0,1325.8 L1420.0,1325.8 L1422.0,1325.8 L1424.0,1325.8 L1426.0,1325.8 L1428.0,1325.8 L1430.0,1325.8 L1432.0,1325.8 L1434.0,1325.8 L1436.0,1325.8 L1438.0,1325.9 L1440.0,1325.9 L1442.0,1325.9 L1444.0,1325.9 L1446.0,1325.9 L1448.0,1325.9 L1450.0,1325.9 L1452.0,1326.0 L1454.0,1326.0 L1456.0,1326.0 L1458.0,1326.0 L1460.0,1326.0 L1462.0,1326.0 L1464.0,1326.0 L1466.0,1326.1 L1468.0,1326.1 L1470.0,1326.1 L1472.0,1326.1 L1474.0,1326.1 L1476.0,1326.1 L1478.0,1326.2 L1480.0,1326.2 L1482.0,1326.2 L1484.0,1326.2 L1486.0,1326.2 L1488.0,1326.2 L1490.0,1326.3 L1492.0,1326.3 L1494.0,1326.3 L1496.0,1326.3 L1498.0,1326.3 L1500.1,1326.4 L1502.1,1326.4 L1504.1,1326.4 L1506.1,1326.4 L1508.1,1326.4 L1510.1,1326.5 L1512.1,1326.5 L1514.1,1326.5 L1516.1,1326.5 L1518.1,1326.5 L1520.1,1326.6 L1522.1,1326.6 L1524.1,1326.6 L1526.1,1326.6 L1528.1,1326.6 L1530.1,1326.7 L1532.1,1326.7 L1534.1,1326.7 L1536.1,1326.7 L1538.1,1326.8 L1540.1,1326.8 L1542.1,1326.8 L1544.1,1326.8 L1546.1,1326.9 L1548.1,1326.9 L1550.1,1326.9 L1552.1,1326.9 L1554.1,1327.0 L1556.1,1327.0 L1558.1,1327.0 L1560.1,1327.0 L1562.1,1327.1 L1564.1,1327.1 L1566.1,1327.1 L1568.1,1327.1 L1570.1,1327.2 L1572.1,1327.2 L1574.1,1327.2 L1576.1,1327.2 L1578.1,1327.3 L1580.1,1327.3 L1582.1,1327.3 L1584.1,1327.4 L1586.1,1327.4 L1588.1,1327.4 L1590.1,1327.4 L1592.1,1327.5 L1594.1,1327.5 L1596.1,1327.5 L1598.1,1327.6 L1600.1,1327.6 L1602.2,1327.6 L1604.2,1327.6 L1606.2,1327.7 L1608.2,1327.7 L1610.2,1327.7 L1612.2,1327.8 L1614.2,1327.8 L1616.2,1327.8 L1618.2,1327.9 L1620.2,1327.9 L1622.2,1327.9 L1624.2,1327.9 L1626.2,1328.0 L1628.2,1328.0 L1630.2,1328.0 L1632.2,1328.1 L1634.2,1328.1 L1636.2,1328.1 L1638.2,1328.2 L1640.2,1328.2 L1642.2,1328.2 L1644.2,1328.3 L1646.2,1328.3 L1648.2,1328.3 L1650.2,1328.4 L1652.2,1328.4 L1654.2,1328.4 L1656.2,1328.5 L1658.2,1328.5 L1660.2,1328.5 L1662.2,1328.6 L1664.2,1328.6 L1666.2,1328.6 L1668.2,1328.7 L1670.2,1328.7 L1672.2,1328.7 L1674.2,1328.8 L1676.2,1328.8 L1678.2,1328.8 L1680.2,1328.9 L1682.2,1328.9 L1684.2,1329.0 L1686.2,1329.0 L1688.2,1329.0 L1690.2,1329.1 L1692.2,1329.1 L1694.2,1329.1 L1696.2,1329.2 L1698.2,1329.2 L1700.2,1329.2 L1702.2,1329.3 L1704.2,1329.3 L1706.2,1329.4 L1708.2,1329.4 L1710.2,1329.4 L1712.2,1329.5 L1714.2,1329.5 L1716.2,1329.5 L1718.2,1329.6 L1720.3,1329.6 L1722.3,1329.6 L1724.3,1329.7 L1726.3,1329.7 L1728.3,1329.8 L1730.3,1329.8 L1732.3,1329.8 L1734.3,1329.9 L1736.3,1329.9 L1738.3,1330.0 L1740.3,1330.0 L1742.3,1330.0 L1744.3,1330.1 L1746.3,1330.1 L1748.3,1330.1 L1750.3,1330.2 L1752.3,1330.2 L1754.3,1330.3 L1756.3,1330.3 L1758.3,1330.3 L1760.3,1330.4 L1762.3,1330.4 L1764.3,1330.5 L1766.3,1330.5 L1768.3,1330.5 L1770.3,1330.6 L1772.3,1330.6 L1774.3,1330.7 L1776.3,1330.7 L1778.3,1330.7 L1780.3,1330.8 L1782.3,1330.8 L1784.3,1330.9 L1786.3,1330.9 L1788.3,1330.9 L1790.3,1331.0 L1792.3,1331.0 L1794.3,1331.1 L1796.3,1331.1 L1798.3,1331.1 L1800.3,1331.2 L1802.3,1331.2 L1804.3,1331.3 L1806.3,1331.3 L1808.3,1331.4 L1810.3,1331.4 L1812.3,1331.4 L1814.3,1331.5 L1816.3,1331.5 L1818.3,1331.6 L1820.3,1331.6 L1822.3,1331.6 L1824.3,1331.7 L1826.3,1331.7 L1828.3,1331.8 L1830.3,1331.8 L1832.3,1331.9 L1834.3,1331.9 L1836.3,1331.9 L1838.3,1332.0 L1840.3,1332.0 L1842.3,1332.1 L1844.3,1332.1 L1846.4,1332.1 L1848.4,1332.2 L1850.4,1332.2 L1852.4,1332.3 L1854.4,1332.3 L1856.4,1332.4 L1858.4,1332.4 L1860.4,1332.4 L1862.4,1332.5 L1864.4,1332.5 L1866.4,1332.6 L1868.4,1332.6 L1870.4,1332.7 L1872.4,1332.7 L1874.4,1332.7 L1876.4,1332.8 L1878.4,1332.8 L1880.4,1332.9 L1882.4,1332.9 L1884.4,1333.0 L1886.4,1333.0 L1888.4,1333.0 L1890.4,1333.1 L1892.4,1333.1 L1894.4,1333.2 L1896.4,1333.2 L1898.4,1333.3 L1900.4,1333.3 L1902.4,1333.3 L1904.4,1333.4 L1906.4,1333.4 L1908.4,1333.5 L1910.4,1333.5 L1912.4,1333.6 L1914.4,1333.6 L1916.4,1333.6 L1918.4,1333.7 L1920.4,1333.7 L1922.4,1333.8 L1924.4,1333.8 L1926.4,1333.9 L1928.4,1333.9 L1930.4,1333.9 L1932.4,1334.0 L1934.4,1334.0 L1936.4,1334.1 L1938.4,1334.1 L1940.4,1334.1 L1942.4,1334.2 L1944.4,1334.2 L1946.4,1334.3 L1948.4,1334.3 L1950.4,1334.4 L1952.4,1334.4 L1954.4,1334.4 L1956.4,1334.5 L1958.4,1334.5 L1960.4,1334.6 L1962.4,1334.6 L1964.4,1334.7 L1966.4,1334.7 L1968.4,1334.7 L1970.4,1334.8 L1972.5,1334.8 L1974.5,1334.9 L1976.5,1334.9 L1978.5,1335.0 L1980.5,1335.0 L1982.5,1335.0 L1984.5,1335.1 L1986.5,1335.1 L1988.5,1335.2 L1990.5,1335.2 L1992.5,1335.3 L1994.5,1335.3 L1996.5,1335.3 L1998.5,1335.4 L2000.5,1335.4 L2002.5,1335.5 L2004.5,1335.5 L2006.5,1335.5 L2008.5,1335.6 L2010.5,1335.6 L2012.5,1335.7 L2014.5,1335.7 L2016.5,1335.8 L2018.5,1335.8 L2020.5,1335.8 L2022.5,1335.9 L2024.5,1335.9 L2026.5,1336.0 L2028.5,1336.0 L2030.5,1336.0 L2032.5,1336.1 L2034.5,1336.1 L2036.5,1336.2 L2038.5,1336.2 L2040.5,1336.2 L2042.5,1336.3 L2044.5,1336.3 L2046.5,1336.4 L2048.5,1336.4 L2050.5,1336.5 L2052.5,1336.5 L2054.5,1336.5 L2056.5,1336.6 L2058.5,1336.6 L2060.5,1336.7 L2062.5,1336.7 L2064.5,1336.7 L2066.5,1336.8 L2068.5,1336.8 L2070.5,1336.9 L2072.5,1336.9 L2074.5,1336.9 L2076.5,1337.0 L2078.5,1337.0 L2080.5,1337.0 L2082.5,1337.1 L2084.5,1337.1 L2086.6,1337.2 L2088.6,1337.2 L2090.6,1337.2 L2092.6,1337.3 L2094.6,1337.3 L2096.6,1337.4 L2098.6,1337.4 L2100.6,1337.4 L2102.6,1337.5 L2104.6,1337.5 L2106.6,1337.6 L2108.6,1337.6 L2110.6,1337.6 L2112.6,1337.7 L2114.6,1337.7 L2116.6,1337.7 L2118.6,1337.8 L2120.6,1337.8 L2122.6,1337.9 L2124.6,1337.9 L2126.6,1337.9 L2128.6,1338.0 L2130.6,1338.0 L2132.6,1338.0 L2134.6,1338.1 L2136.6,1338.1 L2138.6,1338.1 L2140.6,1338.2 L2142.6,1338.2"/>
<path stroke="#ff00ff" d="M438.0,453.3 L438.2,455.3 L438.5,457.3 L438.8,459.3 L439.1,461.3 L439.3,463.2 L439.6,465.2 L439.8,467.2 L440.1,469.2 L440.3,471.2 L440.6,473.2 L440.8,475.1 L441.0,477.1 L441.3,479.1 L441.5,481.1 L441.7,483.1 L441.9,485.1 L442.1,487.1 L442.4,489.0 L442.6,491.0 L442.8,493.0 L443.0,495.0 L443.2,497.0 L443.4,499.0 L443.6,501.0 L443.7,503.0 L443.9,505.0 L444.1,507.0 L444.3,509.0 L444.5,511.0 L444.7,513.0 L444.8,515.0 L445.0,516.9 L445.2,518.9 L445.3,520.9 L445.5,522.9 L445.7,524.9 L445.8,526.9 L446.0,528.9 L446.1,530.9 L446.3,532.9 L446.4,534.9 L446.6,536.9 L446.8,538.9 L446.9,540.9 L447.1,542.9 L447.2,544.9 L447.4,546.9 L447.5,548.9 L447.6,550.9 L447.8,552.9 L447.9,554.9 L448.1,556.9 L448.2,558.9 L448.4,560.9 L448.5,562.9 L448.7,564.9 L448.8,566.9 L448.9,568.9 L449.1,570.9 L449.2,572.9 L449.4,574.9 L449.5,576.9 L449.7,578.9 L449.8,580.9 L449.9,582.9 L450.1,584.9 L450.2,587.0 L450.4,589.0 L450.5,591.0 L450.7,593.0 L450.8,595.0 L451.0,597.0 L451.1,599.0 L451.3,601.0 L451.4,603.0 L451.6,605.0 L451.8,607.0 L451.9,608.9 L452.1,610.9 L452.2,612.9 L452.4,614.9 L452.6,616.9 L452.7,618.9 L452.9,620.9 L453.1,622.9 L453.3,624.9 L453.4,626.9 L453.6,628.9 L453.8,630.9 L454.0,632.9 L454.2,634.9 L454.4,636.9 L454.6,638.9 L454.8,640.9 L455.0,642.9 L455.2,644.9 L455.4,646.8 L455.6,648.8 L455.8,650.8 L456.0,652.8 L456.3,654.8 L456.5,656.8 L456.7,658.8 L456.9,660.8 L457.2,662.8 L457.4,664.7 L457.7,666.7 L457.9,668.7 L458.2,670.7 L458.4,672.7 L458.7,674.6 L459.0,676.6 L459.2,678.6 L459.5,680.6 L459.8,682.6 L460.1,684.5 L460.4,686.5 L460.7,688.5 L461.0,690.5 L461.3,692.4 L461.6,694.4 L461.9,696.4 L462.2,698.4 L462.6,700.3 L462.9,702.3 L463.3,704.3 L463.6,706.2 L464.0,708.2 L464.3,710.2 L464.7,712.1 L465.1,714.1 L465.4,716.0 L465.8,718.0 L466.2,720.0 L466.6,721.9 L467.0,723.9 L467.4,725.8 L467.8,727.8 L468.3,729.7 L468.7,731.7 L469.1,733.6 L469.6,735.6 L470.0,737.5 L470.5,739.5 L471.0,741.4 L471.4,743.4 L471.9,745.3 L472.4,747.3 L472.9,749.2 L473.4,751.1 L473.9,753.1 L474.5,755.0 L475.0,757.0 L475.5,758.9 L476.1,760.8 L476.6,762.7 L477.2,764.7 L477.8,766.6 L478.4,768.5 L478.9,770.5 L479.5,772.4 L480.1,774.3 L480.8,776.2 L481.4,778.1 L482.0,780.1 L482.7,782.0 L483.3,783.9 L484.0,785.8 L484.7,787.7 L485.4,789.6 L486.1,791.5 L486.8,793.4 L487.5,795.2 L488.3,797.1 L489.1,799.0 L489.9,800.8 L490.7,802.6 L491.5,804.4 L492.4,806.2 L493.3,808.0 L494.2,809.8 L495.2,811.5 L496.2,813.3 L497.2,815.0 L498.2,816.6 L499.3,818.3 L500.4,819.9 L501.6,821.6 L502.7,823.1 L503.9,824.7 L505.2,826.2 L506.5,827.7 L507.8,829.2 L509.2,830.6 L510.6,832.0 L512.1,833.4 L513.6,834.7 L515.1,836.0 L516.7,837.2 L518.3,838.4 L520.0,839.5 L521.7,840.5 L523.4,841.5 L525.2,842.4 L527.0,843.3 L528.9,844.0 L530.7,844.7 L532.6,845.3 L534.6,845.8 L536.5,846.3 L538.5,846.7 L540.5,847.1 L542.5,847.4 L544.6,847.7 L546.6,848.1 L548.6,848.4 L550.6,848.8 L552.6,849.2 L554.5,849.6 L556.5,850.1 L558.4,850.7 L560.3,851.3 L562.1,852.1 L563.9,852.9 L565.6,853.8 L567.4,854.8 L569.0,855.9 L570.7,857.0 L572.3,858.2 L573.8,859.5 L575.3,860.8 L576.8,862.1 L578.3,863.5 L579.7,864.9 L581.1,866.3 L582.4,867.8 L583.8,869.3 L585.0,870.8 L586.3,872.4 L587.5,873.9 L588.7,875.5 L589.9,877.2 L591.0,878.8 L592.1,880.5 L593.2,882.2 L594.3,883.9 L595.3,885.6 L596.3,887.3 L597.3,889.1 L598.3,890.8 L599.2,892.6 L600.1,894.4 L601.0,896.2 L601.9,898.0 L602.8,899.8 L603.7,901.6 L604.5,903.5 L605.4,905.3 L606.2,907.2 L607.0,909.0 L607.8,910.9 L608.7,912.7 L609.5,914.6 L610.3,916.4 L611.1,918.3 L611.9,920.1 L612.7,922.0 L613.5,923.8 L614.3,925.7 L615.1,927.5 L616.0,929.3 L616.8,931.2 L617.6,933.0 L618.5,934.8 L619.3,936.6 L620.2,938.4 L621.1,940.2 L622.0,941.9 L622.9,943.7 L623.9,945.4 L624.8,947.2 L625.8,948.9 L626.8,950.6 L627.9,952.2 L628.9,953.9 L630.0,955.5 L631.1,957.2 L632.3,958.8 L633.4,960.3 L634.6,961.9 L635.9,963.4 L637.1,964.9 L638.4,966.4 L639.8,967.8 L641.2,969.2 L642.6,970.6 L644.0,972.0 L645.5,973.4 L647.0,974.7 L648.5,976.0 L650.1,977.2 L651.7,978.5 L653.3,979.7 L654.9,980.9 L656.5,982.1 L658.2,983.3 L659.9,984.5 L661.5,985.6 L663.2,986.7 L665.0,987.8 L666.7,988.9 L668.4,989.9 L670.1,991.0 L671.9,992.0 L673.6,993.0 L675.4,994.0 L677.1,995.0 L678.9,996.0 L680.6,996.9 L682.4,997.8 L684.2,998.7 L686.0,999.5 L687.8,1000.3 L689.6,1001.0 L691.4,1001.7 L693.3,1002.3 L695.2,1002.9 L697.1,1003.4 L699.0,1004.0 L700.9,1004.5 L702.8,1005.0 L704.7,1005.6 L706.5,1006.2 L708.4,1006.9 L710.2,1007.6 L712.0,1008.5 L713.8,1009.4 L715.6,1010.3 L717.4,1011.3 L719.1,1012.3 L720.9,1013.3 L722.7,1014.3 L724.4,1015.3 L726.2,1016.3 L728.0,1017.2 L729.8,1018.1 L731.6,1019.0 L733.4,1019.9 L735.2,1020.7 L737.1,1021.5 L738.9,1022.3 L740.7,1023.1 L742.6,1023.9 L744.4,1024.6 L746.3,1025.3 L748.1,1026.0 L750.0,1026.7 L751.9,1027.4 L753.8,1028.1 L755.6,1028.7 L757.5,1029.3 L759.4,1029.9 L761.3,1030.5 L763.2,1031.1 L765.1,1031.7 L767.0,1032.3 L769.0,1032.8 L770.9,1033.4 L772.8,1033.9 L774.7,1034.4 L776.7,1034.9 L778.6,1035.4 L780.5,1035.9 L782.5,1036.4 L784.4,1036.9 L786.3,1037.3 L788.3,1037.8 L790.2,1038.2 L792.2,1038.7 L794.1,1039.1 L796.1,1039.6 L798.0,1040.0 L800.0,1040.4 L802.0,1040.9 L803.9,1041.3 L805.9,1041.7 L807.8,1042.1 L809.8,1042.6 L811.8,1043.0 L813.7,1043.4 L815.7,1043.8 L817.6,1044.3 L819.6,1044.7 L821.6,1045.1 L823.5,1045.6 L825.5,1046.0 L827.4,1046.5 L829.4,1046.9 L831.3,1047.4 L833.3,1047.8 L835.2,1048.3 L837.2,1048.8 L839.1,1049.2 L841.1,1049.7 L843.0,1050.2 L845.0,1050.7 L846.9,1051.2 L848.8,1051.7 L850.8,1052.2 L852.7,1052.7 L854.7,1053.3 L856.6,1053.8 L858.5,1054.3 L860.5,1054.9 L862.4,1055.4 L864.3,1055.9 L866.2,1056.5 L868.2,1057.0 L870.1,1057.6 L872.0,1058.1 L874.0,1058.7 L875.9,1059.2 L877.8,1059.8 L879.7,1060.3 L881.7,1060.9 L883.6,1061.4 L885.5,1062.0 L887.4,1062.5 L889.4,1063.1 L891.3,1063.6 L893.2,1064.2 L895.1,1064.7 L897.1,1065.3 L899.0,1065.8 L900.9,1066.3 L902.8,1066.9 L904.8,1067.4 L906.7,1067.9 L908.6,1068.5 L910.6,1069.0 L912.5,1069.5 L914.4,1070.0 L916.3,1070.5 L918.3,1071.0 L920.2,1071.5 L922.2,1072.0 L924.1,1072.5 L926.0,1073.0 L928.0,1073.5 L929.9,1073.9 L931.9,1074.4 L933.8,1074.8 L935.8,1075.3 L937.7,1075.7 L939.6,1076.2 L941.6,1076.6 L943.6,1077.0 L945.5,1077.5 L947.5,1077.9 L949.4,1078.3 L951.4,1078.7 L953.3,1079.1 L955.3,1079.5 L957.2,1079.9 L959.2,1080.3 L961.2,1080.7 L963.1,1081.1 L965.1,1081.5 L967.1,1081.8 L969.0,1082.2 L971.0,1082.6 L972.9,1083.0 L974.9,1083.3 L976.9,1083.7 L978.8,1084.1 L980.8,1084.4 L982.8,1084.8 L984.8,1085.2 L986.7,1085.5 L988.7,1085.9 L990.7,1086.3 L992.6,1086.6 L994.6,1087.0 L996.6,1087.3 L998.5,1087.7 L1000.5,1088.0 L1002.5,1088.4 L1004.5,1088.8 L1006.4,1089.1 L1008.4,1089.5 L1010.4,1089.8 L1012.3,1090.2 L1014.3,1090.6 L1016.3,1090.9 L1018.3,1091.3 L1020.2,1091.7 L1022.2,1092.0 L1024.2,1092.4 L1026.1,1092.8 L1028.1,1093.2 L1030.1,1093.6 L1032.0,1093.9 L1034.0,1094.3 L1036.0,1094.7 L1037.9,1095.1 L1039.9,1095.5 L1041.9,1095.9 L1043.8,1096.3 L1045.8,1096.7 L1047.8,1097.1 L1049.7,1097.6 L1051.7,1098.0 L1053.7,1098.4 L1055.6,1098.9 L1057.6,1099.3 L1059.5,1099.7 L1061.5,1100.2 L1063.5,1100.6 L1065.4,1101.1 L1067.4,1101.6 L1069.3,1102.0 L1071.3,1102.5 L1073.2,1103.0 L1075.2,1103.5 L1077.1,1103.9 L1079.1,1104.4 L1081.0,1104.9 L1083.0,1105.3 L1084.9,1105.8 L1086.9,1106.3 L1088.8,1106.7 L1090.8,1107.2 L1092.7,1107.6 L1094.7,1108.0 L1096.6,1108.4 L1098.6,1108.8 L1100.6,1109.2 L1102.5,1109.6 L1104.5,1110.0 L1106.4,1110.4 L1108.4,1110.7 L1110.3,1111.1 L1112.3,1111.4 L1114.2,1111.7 L1116.2,1112.0 L1118.2,1112.2 L1120.1,1112.5 L1122.1,1112.7 L1124.0,1112.9 L1126.0,1113.1 L1128.0,1113.2 L1129.9,1113.4 L1131.9,1113.5 L1133.9,1113.5 L1135.9,1113.6 L1137.8,1113.6 L1139.8,1113.6 L1141.8,1113.6 L1143.8,1113.5 L1145.7,1113.5 L1147.7,1113.4 L1149.7,1113.2 L1151.7,1113.1 L1153.7,1112.9 L1155.7,1112.7 L1157.7,1112.4 L1159.7,1112.2 L1161.6,1111.9 L1163.6,1111.7 L1165.6,1111.4 L1167.6,1111.1 L1169.6,1110.7 L1171.6,1110.4 L1173.6,1110.0 L1175.6,1109.7 L1177.6,1109.3 L1179.6,1108.9 L1181.6,1108.5 L1183.6,1108.1 L1185.6,1107.7 L1187.6,1107.3 L1189.6,1106.9 L1191.6,1106.5 L1193.6,1106.1 L1195.6,1105.7 L1197.6,1105.3 L1199.6,1104.9 L1201.6,1104.5 L1203.6,1104.1 L1205.6,1103.7 L1207.6,1103.3 L1209.6,1102.9 L1211.6,1102.6 L1213.6,1102.2 L1215.6,1101.8 L1217.6,1101.5 L1219.6,1101.2 L1221.5,1100.9 L1223.5,1100.6 L1225.5,1100.3 L1227.5,1100.0 L1229.5,1099.8 L1231.5,1099.6 L1233.4,1099.4 L1235.4,1099.2 L1237.4,1099.0 L1239.4,1098.9 L1241.3,1098.8 L1243.3,1098.7 L1245.3,1098.6 L1247.2,1098.6 L1249.2,1098.6 L1251.1,1098.6 L1253.1,1098.7 L1255.1,1098.8 L1257.0,1098.9 L1259.0,1099.1 L1260.9,1099.3 L1262.8,1099.5 L1264.8,1099.7 L1266.7,1100.0 L1268.6,1100.2 L1270.6,1100.6 L1272.5,1100.9 L1274.4,1101.3 L1276.4,1101.6 L1278.3,1102.0 L1280.2,1102.5 L1282.1,1102.9 L1284.1,1103.4 L1286.0,1103.9 L1287.9,1104.4 L1289.8,1104.9 L1291.7,1105.4 L1293.6,1106.0 L1295.5,1106.6 L1297.5,1107.2 L1299.4,1107.8 L1301.3,1108.4 L1303.2,1109.0 L1305.1,1109.6 L1307.0,1110.3 L1308.9,1111.0 L1310.8,1111.6 L1312.7,1112.3 L1314.6,1113.0 L1316.5,1113.7 L1318.4,1114.4 L1320.3,1115.1 L1322.2,1115.9 L1324.1,1116.6 L1326.0,1117.3 L1327.9,1118.1 L1329.8,1118.8 L1331.7,1119.5 L1333.6,1120.3 L1335.5,1121.0 L1337.4,1121.8 L1339.3,1122.5 L1341.2,1123.2 L1343.1,1124.0 L1345.0,1124.7 L1346.9,1125.5 L1348.8,1126.2 L1350.7,1126.9 L1352.6,1127.6 L1354.5,1128.4 L1356.4,1129.1 L1358.3,1129.8 L1360.2,1130.5 L1362.1,1131.2 L1364.0,1131.8 L1365.9,1132.5 L1367.8,1133.2 L1369.7,1133.8 L1371.6,1134.4 L1373.5,1135.1 L1375.5,1135.7 L1377.4,1136.3 L1379.3,1136.9 L1381.2,1137.5 L1383.1,1138.0 L1385.0,1138.6 L1386.9,1139.2 L1388.9,1139.7 L1390.8,1140.3 L1392.7,1140.8 L1394.6,1141.4 L1396.5,1141.9 L1398.4,1142.5 L1400.3,1143.0 L1402.3,1143.5 L1404.2,1144.0 L1406.1,1144.6 L1408.0,1145.1 L1409.9,1145.6 L1411.8,1146.2 L1413.7,1146.7 L1415.6,1147.2 L1417.6,1147.7 L1419.5,1148.3 L1421.4,1148.8 L1423.3,1149.4 L1425.2,1149.9 L1427.1,1150.4 L1429.0,1151.0 L1430.9,1151.6 L1432.8,1152.1 L1434.7,1152.7 L1436.5,1153.3 L1438.4,1153.9 L1440.3,1154.5 L1442.2,1155.1 L1444.1,1155.7 L1446.0,1156.3 L1447.9,1156.9 L1449.7,1157.6 L1451.6,1158.2 L1453.5,1158.8 L1455.4,1159.4 L1457.3,1160.1 L1459.2,1160.7 L1461.0,1161.4 L1462.9,1162.0 L1464.8,1162.6 L1466.7,1163.2 L1468.6,1163.9 L1470.5,1164.5 L1472.4,1165.1 L1474.3,1165.7 L1476.2,1166.3 L1478.2,1166.9 L1480.1,1167.5 L1482.0,1168.0 L1483.9,1168.6 L1485.9,1169.2 L1487.8,1169.7 L1489.8,1170.2 L1491.7,1170.7 L1493.7,1171.2 L1495.7,1171.7 L1497.6,1172.2 L1499.6,1172.7 L1501.6,1173.1 L1503.6,1173.5 L1505.6,1174.0 L1507.5,1174.4 L1509.5,1174.8 L1511.5,1175.1 L1513.5,1175.5 L1515.5,1175.9 L1517.6,1176.2 L1519.6,1176.5 L1521.6,1176.8 L1523.6,1177.1 L1525.6,1177.4 L1527.6,1177.6 L1529.6,1177.8 L1531.7,1178.1 L1533.7,1178.3 L1535.7,1178.5 L1537.7,1178.6 L1539.7,1178.8 L1541.8,1178.9 L1543.8,1179.0 L1545.8,1179.1 L1547.8,1179.2 L1549.8,1179.3 L1551.8,1179.3 L1553.9,1179.3 L1555.9,1179.3 L1557.9,1179.3 L1559.9,1179.3 L1561.9,1179.2 L1563.9,1179.1 L1565.9,1179.0 L1567.9,1178.9 L1569.9,1178.8 L1571.9,1178.6 L1573.8,1178.4 L1575.8,1178.2 L1577.8,1178.0 L1579.8,1177.7 L1581.7,1177.5 L1583.7,1177.2 L1585.7,1176.8 L1587.6,1176.5 L1589.5,1176.1 L1591.5,1175.8 L1593.4,1175.3 L1595.3,1174.9 L1597.3,1174.5 L1599.2,1174.0 L1601.1,1173.5 L1603.0,1172.9 L1604.9,1172.4 L1606.7,1171.8 L1608.6,1171.2 L1610.5,1170.6 L1612.3,1169.9 L1614.2,1169.2 L1616.0,1168.5 L1617.8,1167.8 L1619.6,1167.0 L1621.5,1166.2 L1623.3,1165.4 L1625.0,1164.6 L1626.8,1163.7 L1628.6,1162.8 L1630.3,1161.9 L1632.1,1160.9 L1633.8,1159.9 L1635.5,1159.0 L1637.3,1157.9 L1639.0,1156.9 L1640.7,1155.8 L1642.4,1154.8 L1644.1,1153.7 L1645.7,1152.5 L1647.4,1151.4 L1649.1,1150.3 L1650.7,1149.1 L1652.4,1147.9 L1654.0,1146.7 L1655.6,1145.5 L1657.3,1144.3 L1658.9,1143.1 L1660.5,1141.9 L1662.1,1140.7 L1663.7,1139.4 L1665.3,1138.2 L1666.9,1136.9 L1668.5,1135.7 L1670.1,1134.4 L1671.7,1133.1 L1673.3,1131.9 L1674.9,1130.6 L1676.5,1129.3 L1678.1,1128.1 L1679.6,1126.8 L1681.2,1125.6 L1682.8,1124.3 L1684.3,1123.0 L1685.9,1121.8 L1687.5,1120.5 L1689.0,1119.3 L1690.6,1118.0 L1692.1,1116.7 L1693.7,1115.5 L1695.2,1114.2 L1696.8,1112.9 L1698.3,1111.6 L1699.9,1110.4 L1701.4,1109.1 L1702.9,1107.8 L1704.4,1106.5 L1706.0,1105.2 L1707.5,1104.0 L1709.0,1102.7 L1710.5,1101.4 L1712.0,1100.1 L1713.5,1098.8 L1715.0,1097.5 L1716.5,1096.2 L1718.0,1094.9 L1719.4,1093.5 L1720.9,1092.2 L1722.4,1090.9 L1723.9,1089.6 L1725.3,1088.2 L1726.8,1086.9 L1728.2,1085.6 L1729.7,1084.2 L1731.1,1082.9 L1732.6,1081.5 L1734.0,1080.2 L1735.5,1078.8 L1736.9,1077.4 L1738.4,1076.1 L1739.8,1074.7 L1741.2,1073.3 L1742.7,1072.0 L1744.1,1070.6 L1745.5,1069.2 L1747.0,1067.9 L1748.4,1066.5 L1749.8,1065.1 L1751.3,1063.7 L1752.7,1062.4 L1754.2,1061.0 L1755.6,1059.6 L1757.0,1058.3 L1758.5,1056.9 L1759.9,1055.5 L1761.4,1054.2 L1762.8,1052.8 L1764.3,1051.4 L1765.8,1050.1 L1767.2,1048.7 L1768.7,1047.4 L1770.2,1046.0 L1771.7,1044.7 L1773.2,1043.3 L1774.7,1042.0 L1776.2,1040.7 L1777.7,1039.3 L1779.2,1038.0 L1780.7,1036.7 L1782.3,1035.4 L1783.8,1034.1 L1785.4,1032.7 L1786.9,1031.4 L1788.5,1030.2 L1790.1,1028.9 L1791.7,1027.6 L1793.3,1026.3 L1794.9,1025.1 L1796.5,1023.8 L1798.1,1022.6 L1799.7,1021.4 L1801.4,1020.1 L1803.0,1018.9 L1804.7,1017.8 L1806.4,1016.6 L1808.1,1015.5 L1809.8,1014.3 L1811.5,1013.2 L1813.2,1012.1 L1814.9,1011.1 L1816.6,1010.0 L1818.4,1009.0 L1820.1,1008.0 L1821.9,1007.0 L1823.7,1006.1 L1825.5,1005.2 L1827.3,1004.3 L1829.1,1003.4 L1830.9,1002.6 L1832.7,1001.8 L1834.6,1001.0 L1836.4,1000.3 L1838.3,999.6 L1840.2,998.9 L1842.0,998.3 L1843.9,997.6 L1845.8,997.1 L1847.7,996.5 L1849.7,996.0 L1851.6,995.5 L1853.5,995.0 L1855.4,994.6 L1857.4,994.2 L1859.3,993.8 L1861.3,993.5 L1863.2,993.2 L1865.2,992.9 L1867.2,992.6 L1869.1,992.4 L1871.1,992.2 L1873.1,992.0 L1875.1,991.9 L1877.1,991.8 L1879.1,991.7 L1881.1,991.6 L1883.0,991.6 L1885.0,991.6 L1887.0,991.6 L1889.0,991.6 L1891.0,991.7 L1893.0,991.8 L1895.0,991.9 L1897.0,992.1 L1899.0,992.2 L1901.0,992.4 L1903.0,992.7 L1905.0,992.9 L1907.0,993.2 L1908.9,993.5 L1910.9,993.8 L1912.9,994.1 L1914.9,994.5 L1916.8,994.9 L1918.8,995.3 L1920.7,995.7 L1922.7,996.2 L1924.6,996.7 L1926.6,997.2 L1928.5,997.7 L1930.4,998.3 L1932.4,998.8 L1934.3,999.4 L1936.2,1000.0 L1938.1,1000.7 L1939.9,1001.3 L1941.8,1002.0 L1943.7,1002.7 L1945.5,1003.4 L1947.4,1004.1 L1949.2,1004.9 L1951.1,1005.7 L1952.9,1006.5 L1954.7,1007.3 L1956.5,1008.1 L1958.3,1009.0 L1960.1,1009.8 L1961.9,1010.7 L1963.7,1011.6 L1965.4,1012.5 L1967.2,1013.4 L1969.0,1014.4 L1970.7,1015.3 L1972.4,1016.3 L1974.2,1017.3 L1975.9,1018.3 L1977.6,1019.3 L1979.4,1020.3 L1981.1,1021.3 L1982.8,1022.4 L1984.5,1023.4 L1986.2,1024.5 L1987.9,1025.6 L1989.6,1026.7 L1991.3,1027.7 L1992.9,1028.8 L1994.6,1030.0 L1996.3,1031.1 L1998.0,1032.2 L1999.6,1033.3 L2001.3,1034.5 L2003.0,1035.6 L2004.6,1036.8 L2006.3,1037.9 L2007.9,1039.1 L2009.6,1040.3 L2011.2,1041.4 L2012.9,1042.6 L2014.5,1043.8 L2016.1,1045.0 L2017.8,1046.2 L2019.4,1047.4 L2021.0,1048.5 L2022.7,1049.7 L2024.3,1050.9 L2025.9,1052.1 L2027.6,1053.3 L2029.2,1054.5 L2030.8,1055.7 L2032.5,1056.9 L2034.1,1058.1 L2035.7,1059.3 L2037.4,1060.4 L2039.0,1061.6 L2040.6,1062.8 L2042.3,1064.0 L2043.9,1065.1 L2045.5,1066.3 L2047.2,1067.5 L2048.8,1068.6 L2050.4,1069.8 L2052.1,1070.9 L2053.7,1072.1 L2055.4,1073.2 L2057.0,1074.3 L2058.7,1075.4 L2060.3,1076.6 L2062.0,1077.7 L2063.6,1078.8 L2065.3,1079.9 L2066.9,1081.0 L2068.6,1082.1 L2070.3,1083.2 L2071.9,1084.2 L2073.6,1085.3 L2075.3,1086.4 L2076.9,1087.5 L2078.6,1088.5 L2080.3,1089.6 L2082.0,1090.6 L2083.7,1091.7 L2085.4,1092.7 L2087.1,1093.8 L2088.8,1094.8 L2090.4,1095.8 L2092.2,1096.9 L2093.9,1097.9 L2095.6,1098.9 L2097.3,1099.9 L2099.0,1100.9 L2100.7,1101.9 L2102.4,1102.9 L2104.2,1103.9 L2105.9,1104.9 L2107.6,1105.9 L2109.4,1106.9 L2111.1,1107.8 L2112.9,1108.8 L2114.6,1109.8 L2116.4,1110.8 L2118.1,1111.7 L2119.9,1112.7 L2121.6,1113.6 L2123.4,1114.6 L2125.2,1115.5 L2127.0,1116.5 L2128.8,1117.4 L2130.5,1118.4 L2132.3,1119.3 L2134.1,1120.2 L2135.9,1121.2 L2137.8,1122.1 L2139.6,1123.0"/>
<path stroke="#ff0000" stroke-width="7" d="M850.8,643.2 L852.7,643.8 L854.7,644.3 L856.6,644.9 L858.6,645.4 L860.5,645.9 L862.4,646.4 L864.4,646.9 L866.3,647.4 L868.3,647.9 L870.2,648.4 L872.2,648.8 L874.1,649.3 L876.0,649.8 L878.0,650.2 L879.9,650.7 L881.9,651.1 L883.8,651.6 L885.8,652.0 L887.7,652.5 L889.7,652.9 L891.6,653.4 L893.5,653.9 L895.5,654.3 L897.4,654.8 L899.4,655.3 L901.3,655.8 L903.2,656.3 L905.2,656.9 L907.1,657.4 L909.1,657.9 L911.0,658.5 L912.9,659.0 L914.9,659.6 L916.8,660.1 L918.7,660.7 L920.7,661.2 L922.6,661.7 L924.6,662.3 L926.5,662.8 L928.5,663.3 L930.4,663.7 L932.4,664.2 L934.3,664.6 L936.3,665.1 L938.3,665.5 L940.3,665.8 L942.2,666.2 L944.2,666.5 L946.2,666.7 L948.2,667.0 L950.2,667.1 L952.2,667.3 L954.2,667.4 L956.2,667.5 L958.3,667.5 L960.3,667.5 L962.3,667.4 L964.4,667.2 L966.4,667.0 L968.4,666.8 L970.4,666.5 L972.4,666.1 L974.4,665.6 L976.3,665.1 L978.2,664.5 L980.0,663.9 L981.8,663.1 L983.6,662.3 L985.3,661.4 L987.0,660.4 L988.6,659.3 L990.1,658.1 L991.6,656.9 L993.0,655.6 L994.4,654.2 L995.7,652.7 L997.0,651.2 L998.3,649.7 L999.6,648.1 L1000.8,646.5 L1002.1,644.8 L1003.3,643.2 L1004.5,641.5 L1005.7,639.8 L1007.0,638.1 L1008.2,636.4 L1009.5,634.8 L1010.8,633.1 L1012.1,631.5 L1013.4,629.9 L1014.8,628.4 L1016.2,626.9 L1017.7,625.5 L1019.2,624.1 L1020.7,622.8 L1022.3,621.6 L1023.9,620.4 L1025.5,619.4 L1027.2,618.5 L1028.9,617.6 L1030.7,616.9 L1032.5,616.3 L1034.4,615.8 L1036.3,615.4 L1038.2,615.1 L1040.2,614.9 L1042.1,614.8 L1044.1,614.7 L1046.1,614.8 L1048.2,614.9 L1050.2,615.1 L1052.2,615.3 L1054.2,615.6 L1056.2,616.0 L1058.2,616.4 L1060.2,616.8 L1062.2,617.3 L1064.1,617.8 L1066.1,618.3 L1068.0,618.9 L1069.9,619.5 L1071.9,620.1 L1073.8,620.7 L1075.7,621.4 L1077.6,622.0 L1079.5,622.7 L1081.4,623.3 L1083.3,624.0 L1085.2,624.6 L1087.1,625.2 L1089.0,625.8 L1090.9,626.4 L1092.9,627.0 L1094.8,627.6 L1096.7,628.1 L1098.6,628.6 L1100.5,629.2 L1102.4,629.7 L1104.3,630.3 L1106.2,630.9 L1108.1,631.6 L1109.9,632.3 L1111.7,633.1 L1113.5,634.0 L1115.3,634.9 L1117.0,635.9 L1118.7,636.9 L1120.4,638.0 L1122.1,639.1 L1123.8,640.2 L1125.5,641.4 L1127.2,642.5 L1128.9,643.7 L1130.5,644.9 L1132.2,646.0 L1133.9,647.1 L1135.6,648.2 L1137.3,649.3 L1139.1,650.3 L1140.8,651.3 L1142.6,652.2 L1144.4,653.1 L1146.2,653.9 L1148.1,654.6 L1149.9,655.2 L1151.9,655.7 L1153.8,656.2 L1155.7,656.6 L1157.7,656.9 L1159.7,657.1 L1161.7,657.3 L1163.7,657.4 L1165.7,657.4 L1167.7,657.3 L1169.7,657.2 L1171.7,657.0 L1173.7,656.7 L1175.7,656.4 L1177.7,656.0 L1179.6,655.5 L1181.6,655.0 L1183.5,654.4 L1185.4,653.8 L1187.2,653.0 L1189.1,652.3 L1190.9,651.5 L1192.7,650.6 L1194.5,649.7 L1196.3,648.7 L1198.0,647.7 L1199.8,646.6 L1201.5,645.5 L1203.1,644.4 L1204.8,643.2 L1206.4,642.0 L1208.0,640.8 L1209.6,639.5 L1211.2,638.2 L1212.7,636.9 L1214.2,635.5 L1215.7,634.1 L1217.2,632.7 L1218.6,631.3 L1220.0,629.8 L1221.4,628.4 L1222.8,626.9 L1224.1,625.4 L1225.4,623.9 L1226.7,622.4 L1228.0,620.8 L1229.2,619.3 L1230.4,617.7 L1231.6,616.1 L1232.8,614.5 L1233.9,612.9 L1235.1,611.3 L1236.2,609.7 L1237.3,608.0 L1238.3,606.4 L1239.4,604.7 L1240.4,603.0 L1241.4,601.3 L1242.4,599.6 L1243.4,597.9 L1244.3,596.2 L1245.3,594.4 L1246.2,592.7 L1247.1,590.9 L1248.0,589.1 L1248.8,587.4 L1249.7,585.6 L1250.5,583.8 L1251.3,582.0 L1252.2,580.1 L1252.9,578.3 L1253.7,576.5 L1254.5,574.6 L1255.2,572.8 L1256.0,570.9 L1256.7,569.1 L1257.4,567.2 L1258.1,565.3 L1258.8,563.4 L1259.4,561.5 L1260.1,559.6 L1260.8,557.7 L1261.4,555.8 L1262.0,553.9 L1262.7,552.0 L1263.3,550.1 L1263.9,548.1 L1264.5,546.2 L1265.1,544.3 L1265.6,542.3 L1266.2,540.4 L1266.8,538.4 L1267.3,536.5 L1267.9,534.5 L1268.4,532.6 L1269.0,530.6 L1269.5,528.7 L1270.0,526.7 L1270.5,524.7 L1271.1,522.8 L1271.6,520.8 L1272.1,518.8 L1272.6,516.9 L1273.1,514.9 L1273.6,512.9 L1274.1,511.0 L1274.6,509.0 L1275.1,507.0 L1275.6,505.1 L1276.1,503.1 L1276.6,501.2 L1277.1,499.2 L1277.6,497.2 L1278.1,495.3 L1278.6,493.3 L1279.1,491.4 L1279.6,489.4 L1280.1,487.5 L1280.6,485.5 L1281.1,483.6 L1281.6,481.6 L1282.1,479.7 L1282.6,477.8 L1283.1,475.8 L1283.6,473.9 L1284.1,471.9 L1284.6,470.0 L1285.1,468.1 L1285.6,466.1 L1286.1,464.2 L1286.6,462.3 L1287.1,460.3 L1287.6,458.4 L1288.1,456.5 L1288.6,454.6 L1289.1,452.6 L1289.6,450.7 L1290.1,448.8 L1290.6,446.9 L1291.1,444.9 L1291.6,443.0 L1292.1,441.1 L1292.6,439.2 L1293.1,437.3 L1293.6,435.3 L1294.1,433.4 L1294.7,431.5 L1295.2,429.6 L1295.7,427.7 L1296.2,425.7 L1296.7,423.8 L1297.2,421.9 L1297.7,420.0 L1298.2,418.1 L1298.7,416.1 L1299.2,414.2 L1299.7,412.3 L1300.2,410.4 L1300.7,408.5 L1301.3,406.5 L1301.8,404.6 L1302.3,402.7 L1302.8,400.8 L1303.3,398.8 L1303.8,396.9 L1304.3,395.0 L1304.8,393.1 L1305.3,391.1 L1305.8,389.2 L1306.3,387.3 L1306.9,385.3 L1307.4,383.4 L1307.9,381.5 L1308.4,379.5 L1308.9,377.6 L1309.4,375.7 L1309.9,373.7 L1310.4,371.8 L1310.9,369.8 L1311.4,367.9 L1311.9,366.0 L1312.5,364.0 L1313.0,362.1 L1313.5,360.1 L1314.0,358.2 L1314.5,356.2 L1315.0,354.2 L1315.5,352.3 L1316.0,350.3 L1316.5,348.4 L1317.1,346.4 L1317.6,344.5 L1318.1,342.5 L1318.7,340.6 L1319.2,338.6 L1319.8,336.7 L1320.3,334.7 L1320.9,332.8 L1321.5,330.9 L1322.1,328.9 L1322.7,327.0 L1323.4,325.1 L1324.0,323.2 L1324.7,321.3 L1325.4,319.4 L1326.1,317.5 L1326.8,315.7 L1327.5,313.8 L1328.3,311.9 L1329.0,310.1 L1329.8,308.3 L1330.7,306.4 L1331.5,304.6 L1332.4,302.8 L1333.3,301.1 L1334.2,299.3 L1335.2,297.5 L1336.1,295.8 L1337.2,294.1 L1338.2,292.4 L1339.3,290.7 L1340.4,289.0 L1341.5,287.4 L1342.7,285.7 L1343.9,284.1 L1345.2,282.5 L1346.4,280.9 L1347.8,279.4 L1349.1,277.9 L1350.5,276.5 L1352.0,275.2 L1353.5,274.0 L1355.0,272.8 L1356.7,271.8 L1358.3,270.9 L1360.0,270.1 L1361.8,269.5 L1363.6,269.0 L1365.5,268.7 L1367.5,268.6 L1369.5,268.6 L1371.5,268.8 L1373.5,269.2 L1375.6,269.6 L1377.6,270.2 L1379.6,270.9 L1381.6,271.7 L1383.5,272.6 L1385.4,273.5 L1387.1,274.5 L1388.8,275.6 L1390.4,276.8 L1392.0,278.0 L1393.5,279.3 L1394.8,280.6 L1396.2,282.0 L1397.4,283.5 L1398.6,285.0 L1399.7,286.6 L1400.7,288.3 L1401.6,290.0 L1402.5,291.7 L1403.4,293.5 L1404.2,295.3 L1405.0,297.2 L1405.8,299.0 L1406.6,300.9 L1407.4,302.7 L1408.2,304.5 L1409.0,306.4 L1409.8,308.2 L1410.5,310.1 L1411.3,311.9 L1412.1,313.8 L1412.8,315.7 L1413.6,317.5 L1414.4,319.4 L1415.1,321.2 L1415.9,323.1 L1416.6,324.9 L1417.4,326.8 L1418.1,328.7 L1418.8,330.5 L1419.5,332.4 L1420.3,334.3 L1421.0,336.2 L1421.7,338.0 L1422.4,339.9 L1423.1,341.8 L1423.8,343.7 L1424.5,345.5 L1425.1,347.4 L1425.8,349.3 L1426.5,351.2 L1427.2,353.1 L1427.8,355.0 L1428.5,356.9 L1429.1,358.8 L1429.7,360.7 L1430.4,362.6 L1431.0,364.5 L1431.6,366.4 L1432.2,368.3 L1432.8,370.2 L1433.4,372.1 L1434.0,374.0 L1434.6,375.9 L1435.1,377.8 L1435.7,379.7 L1436.2,381.7 L1436.8,383.6 L1437.3,385.5 L1437.9,387.4 L1438.4,389.3 L1438.9,391.3 L1439.5,393.2 L1440.0,395.1 L1440.5,397.1 L1441.0,399.0 L1441.5,400.9 L1442.0,402.9 L1442.5,404.8 L1443.0,406.8 L1443.4,408.7 L1443.9,410.6 L1444.4,412.6 L1444.9,414.5 L1445.3,416.5 L1445.8,418.4 L1446.3,420.4 L1446.7,422.3 L1447.2,424.3 L1447.6,426.2 L1448.1,428.2 L1448.5,430.1 L1448.9,432.1 L1449.4,434.0 L1449.8,436.0 L1450.3,438.0 L1450.7,439.9 L1451.1,441.9 L1451.5,443.8 L1452.0,445.8 L1452.4,447.8 L1452.8,449.7 L1453.3,451.7 L1453.7,453.6 L1454.1,455.6 L1454.5,457.6 L1455.0,459.5 L1455.4,461.5 L1455.8,463.4 L1456.2,465.4 L1456.6,467.4 L1457.1,469.3 L1457.5,471.3 L1457.9,473.2 L1458.4,475.2 L1458.8,477.2 L1459.2,479.1 L1459.6,481.1 L1460.1,483.0 L1460.5,485.0 L1460.9,487.0 L1461.4,488.9 L1461.8,490.9 L1462.3,492.8 L1462.7,494.8 L1463.2,496.8 L1463.6,498.7 L1464.0,500.7 L1464.5,502.6 L1464.9,504.6 L1465.4,506.5 L1465.9,508.5 L1466.3,510.5 L1466.8,512.4 L1467.2,514.4 L1467.7,516.3 L1468.2,518.3 L1468.6,520.2 L1469.1,522.2 L1469.6,524.1 L1470.0,526.1 L1470.5,528.0 L1471.0,530.0 L1471.5,531.9 L1472.0,533.9 L1472.4,535.8 L1472.9,537.8 L1473.4,539.7 L1473.9,541.7 L1474.4,543.6 L1474.9,545.5 L1475.4,547.5 L1475.9,549.4 L1476.4,551.4 L1476.9,553.3 L1477.4,555.2 L1477.9,557.2 L1478.5,559.1 L1479.0,561.1 L1479.5,563.0 L1480.0,564.9 L1480.6,566.9 L1481.1,568.8 L1481.6,570.7 L1482.2,572.7 L1482.7,574.6 L1483.2,576.5 L1483.8,578.5 L1484.3,580.4 L1484.9,582.3 L1485.4,584.2 L1486.0,586.2 L1486.6,588.1 L1487.1,590.0 L1487.7,591.9 L1488.3,593.8 L1488.8,595.8 L1489.4,597.7 L1490.0,599.6 L1490.6,601.5 L1491.2,603.4 L1491.8,605.3 L1492.4,607.2 L1493.0,609.2 L1493.6,611.1 L1494.2,613.0 L1494.8,614.9 L1495.4,616.8 L1496.0,618.7 L1496.6,620.6 L1497.3,622.5 L1497.9,624.4 L1498.5,626.3 L1499.2,628.2 L1499.8,630.1 L1500.5,632.0 L1501.1,633.9 L1501.8,635.8 L1502.4,637.6 L1503.1,639.5 L1503.8,641.4 L1504.4,643.3 L1505.1,645.2 L1505.8,647.1 L1506.5,648.9 L1507.2,650.8 L1507.9,652.7 L1508.6,654.6 L1509.3,656.5 L1510.0,658.3 L1510.7,660.2 L1511.4,662.1 L1512.1,663.9 L1512.9,665.8 L1513.6,667.7 L1514.3,669.5 L1515.1,671.4 L1515.8,673.2 L1516.6,675.1 L1517.3,677.0 L1518.1,678.8 L1518.8,680.7 L1519.6,682.5 L1520.4,684.4 L1521.2,686.2 L1521.9,688.0 L1522.7,689.9 L1523.5,691.7 L1524.3,693.6 L1525.1,695.4 L1526.0,697.2 L1526.8,699.1 L1527.6,700.9 L1528.4,702.7 L1529.3,704.5 L1530.1,706.4 L1530.9,708.2 L1531.8,710.0 L1532.6,711.8 L1533.5,713.6 L1534.4,715.5 L1535.2,717.3 L1536.1,719.1"/>
</g>
<g font-size="90" stroke="#fff" stroke-width="1.5" stroke-linejoin="round">
<text transform="translate(1592,685.5) scale(0.9,1)" fill="#ff0000">a</text>
<text x="2186.3" y="980" fill="#8000ff">c</text>
<text x="2181.8" y="1148.5" fill="#ff00ff">d</text>
<text x="2178.3" y="1370.5" fill="#000">b</text>
</g>
</svg></body></html>
